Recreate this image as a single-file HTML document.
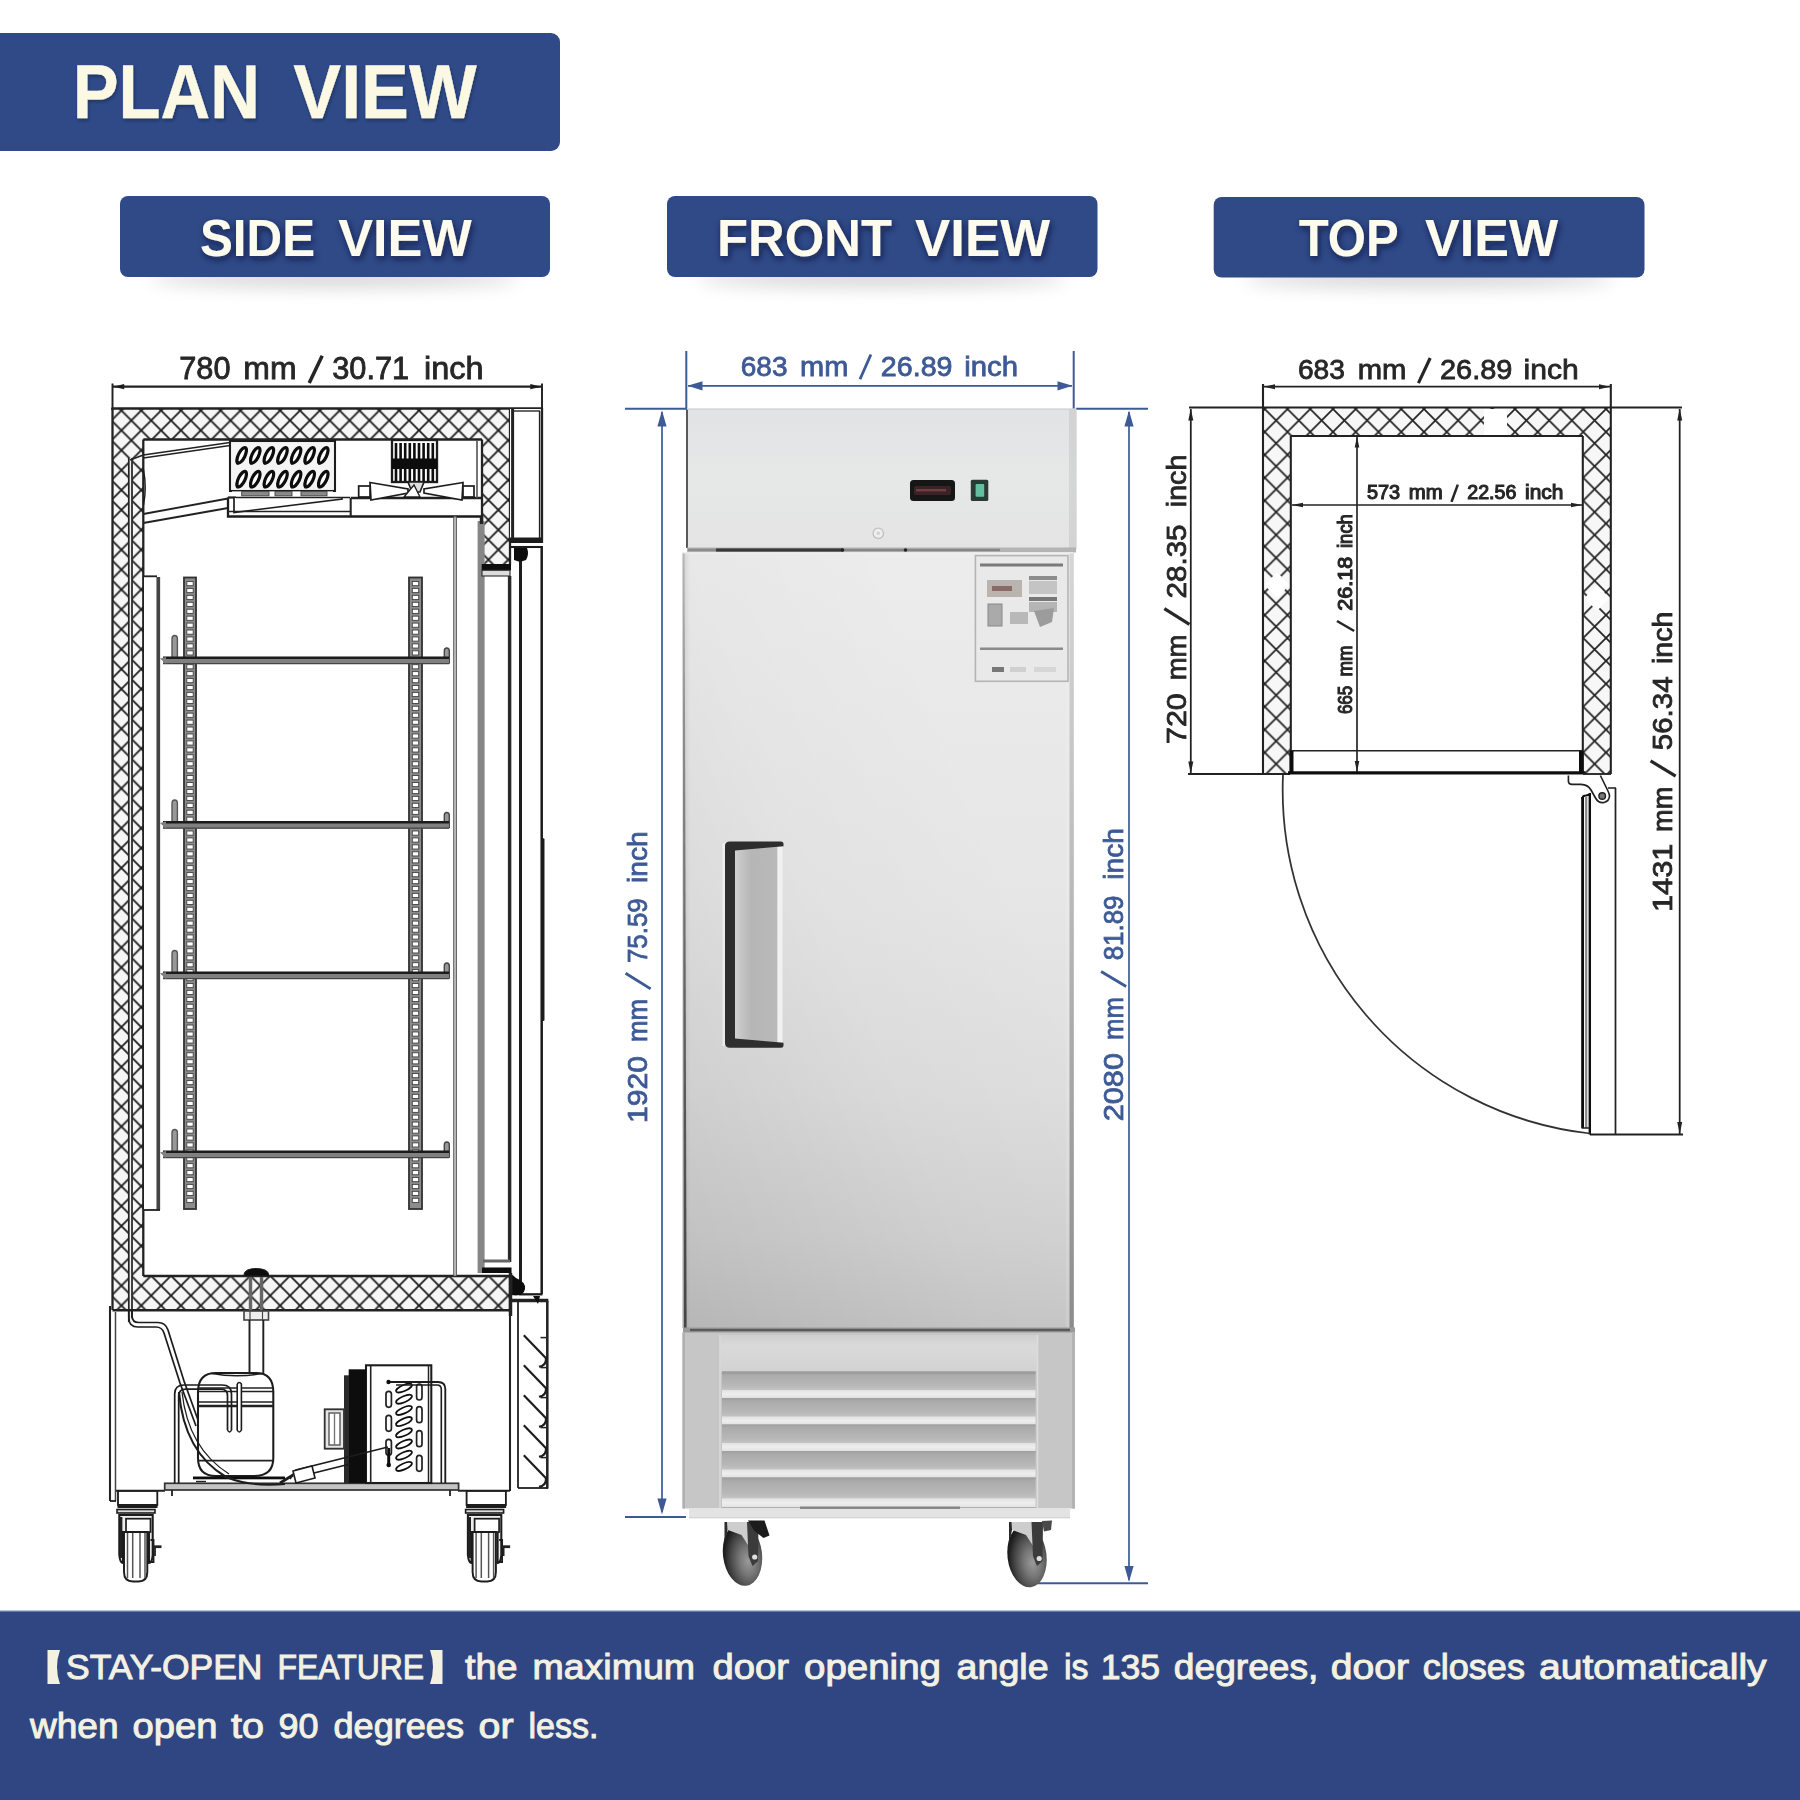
<!DOCTYPE html>
<html><head><meta charset="utf-8"><title>Plan View</title>
<style>
html,body{margin:0;padding:0;background:#fff;}
body{width:1800px;height:1800px;overflow:hidden;font-family:"Liberation Sans",sans-serif;}
svg{display:block;font-family:"Liberation Sans",sans-serif;}
</style></head><body>
<svg width="1800" height="1800" viewBox="0 0 1800 1800">
<defs>
<filter id="blur8" x="-20%" y="-200%" width="140%" height="500%"><feGaussianBlur stdDeviation="9"/></filter>
<filter id="soft" x="0" y="0" width="100%" height="100%" filterUnits="userSpaceOnUse"><feGaussianBlur stdDeviation="0.55"/></filter>
<filter id="blur1"><feGaussianBlur stdDeviation="0.6"/></filter>
<filter id="blur2"><feGaussianBlur stdDeviation="1.2"/></filter>
<filter id="blur4"><feGaussianBlur stdDeviation="4"/></filter>
<filter id="tsh" x="-5%" y="-20%" width="110%" height="150%"><feDropShadow dx="1" dy="2" stdDeviation="1.5" flood-color="#0a1a40" flood-opacity="0.55"/></filter>
<filter id="tsh2" x="-8%" y="-30%" width="116%" height="180%"><feDropShadow dx="1.5" dy="3" stdDeviation="3.5" flood-color="#071433" flood-opacity="0.7"/></filter>
<pattern id="hatchS" patternUnits="userSpaceOnUse" x="121.4" y="410.5" width="19.84" height="19.89">
<rect width="20" height="20" fill="#f6f6f6"/>
<path d="M-0.992 -0.9945 L20.832 20.8845 M20.832 -0.9945 L-0.992 20.8845" stroke="#1e1e1e" stroke-width="1.8" fill="none"/>
</pattern>

<linearGradient id="gDoor" x1="0" y1="0" x2="0" y2="1">
<stop offset="0" stop-color="#ececec"/><stop offset="0.45" stop-color="#e6e6e6"/><stop offset="0.7" stop-color="#dedede"/><stop offset="0.88" stop-color="#d3d3d3"/><stop offset="1" stop-color="#c8c8c8"/>
</linearGradient>
<linearGradient id="gDoorH" x1="0" y1="0" x2="1" y2="0">
<stop offset="0" stop-color="#000" stop-opacity="0.10"/><stop offset="0.02" stop-color="#000" stop-opacity="0.0"/><stop offset="0.5" stop-color="#fff" stop-opacity="0.0"/><stop offset="1" stop-color="#000" stop-opacity="0.0"/>
</linearGradient>
<linearGradient id="gEdgeL" x1="0" y1="0" x2="0" y2="1" gradientUnits="objectBoundingBox">
<stop offset="0" stop-color="#b8b8b8"/><stop offset="0.25" stop-color="#8a8a8a"/><stop offset="0.6" stop-color="#606060"/><stop offset="1" stop-color="#444"/>
</linearGradient>
<linearGradient id="gDoorDL" x1="0" y1="1" x2="0.8" y2="0.35">
<stop offset="0" stop-color="#000" stop-opacity="0.09"/><stop offset="0.6" stop-color="#000" stop-opacity="0.02"/><stop offset="1" stop-color="#000" stop-opacity="0"/>
</linearGradient>
<linearGradient id="gEdgeR" x1="0" y1="0" x2="0" y2="1">
<stop offset="0" stop-color="#d6d6d6"/><stop offset="0.3" stop-color="#c4c4c4"/><stop offset="0.6" stop-color="#adadad"/><stop offset="1" stop-color="#8c8c8c"/>
</linearGradient>
<linearGradient id="gTop" x1="0" y1="0" x2="0" y2="1">
<stop offset="0" stop-color="#e2e3e4"/><stop offset="0.5" stop-color="#e6e7e7"/><stop offset="1" stop-color="#e4e4e4"/>
</linearGradient>
<linearGradient id="gHandle" x1="0" y1="0" x2="1" y2="0">
<stop offset="0" stop-color="#d4d4d4"/><stop offset="0.15" stop-color="#c6c6c6"/><stop offset="0.4" stop-color="#b6b6b6"/><stop offset="1" stop-color="#b9b9b9"/>
</linearGradient>
<linearGradient id="gLouvre" x1="0" y1="0" x2="0" y2="1">
<stop offset="0" stop-color="#9e9e9e"/><stop offset="0.12" stop-color="#ababab"/><stop offset="0.5" stop-color="#b8b8b8"/><stop offset="0.63" stop-color="#c2c2c2"/><stop offset="0.67" stop-color="#e4e4e4"/><stop offset="0.8" stop-color="#eeeeee"/><stop offset="0.92" stop-color="#e2e2e2"/><stop offset="0.94" stop-color="#a8a8a8"/><stop offset="1" stop-color="#a0a0a0"/>
</linearGradient>
<linearGradient id="gBaseTop" x1="0" y1="0" x2="0" y2="1">
<stop offset="0" stop-color="#cfcfcf"/><stop offset="0.3" stop-color="#dadada"/><stop offset="1" stop-color="#d2d2d2"/>
</linearGradient>
<radialGradient id="gWheel" cx="0.62" cy="0.62" r="0.62">
<stop offset="0" stop-color="#9a9a9a"/><stop offset="0.35" stop-color="#777"/><stop offset="0.7" stop-color="#4a4a4a"/><stop offset="1" stop-color="#1c1c1c"/>
</radialGradient>

<pattern id="hatchT" patternUnits="userSpaceOnUse" x="1287.5" y="409" width="22.75" height="22.9">
<rect width="23" height="23" fill="#f7f7f7"/>
<path d="M-2.275 -2.29 L25.025 25.19 M25.025 -2.29 L-2.275 25.19" stroke="#222" stroke-width="1.7" fill="none"/>
</pattern>
</defs>
<rect x="0" y="0" width="1800" height="1800" fill="#fff"/>
<rect x="-12" y="33" width="572" height="118" fill="#2f4a87" stroke="none" stroke-width="1.6" rx="9" />
<g filter="url(#tsh)">
<text x="72.7" y="118.3" font-size="76" font-weight="bold" fill="#fbf8e4" text-anchor="start" textLength="187.3" lengthAdjust="spacingAndGlyphs" stroke="#fbf8e4" stroke-width="0.3" >PLAN</text>
<text x="293.3" y="118.3" font-size="76" font-weight="bold" fill="#fbf8e4" text-anchor="start" textLength="183.4" lengthAdjust="spacingAndGlyphs" stroke="#fbf8e4" stroke-width="0.3" >VIEW</text>
</g>
<ellipse cx="335" cy="278" rx="185" ry="9" fill="#000" opacity="0.17" filter="url(#blur8)"/>
<rect x="120" y="196" width="430" height="81" fill="#2f4a87" stroke="none" stroke-width="1.6" rx="8" />
<g filter="url(#tsh2)">
<text x="200" y="256" font-size="51.5" font-weight="bold" fill="#fdfbee" text-anchor="start" textLength="115" lengthAdjust="spacingAndGlyphs" >SIDE</text>
<text x="338.3" y="256" font-size="51.5" font-weight="bold" fill="#fdfbee" text-anchor="start" textLength="133.4" lengthAdjust="spacingAndGlyphs" >VIEW</text>
</g>
<ellipse cx="882.25" cy="278" rx="185.25" ry="9" fill="#000" opacity="0.17" filter="url(#blur8)"/>
<rect x="667" y="196" width="430.5" height="81" fill="#2f4a87" stroke="none" stroke-width="1.6" rx="8" />
<g filter="url(#tsh2)">
<text x="717" y="256" font-size="51.5" font-weight="bold" fill="#fdfbee" text-anchor="start" textLength="175" lengthAdjust="spacingAndGlyphs" >FRONT</text>
<text x="915" y="256" font-size="51.5" font-weight="bold" fill="#fdfbee" text-anchor="start" textLength="135" lengthAdjust="spacingAndGlyphs" >VIEW</text>
</g>
<ellipse cx="1429.1" cy="278.5" rx="185.4" ry="9" fill="#000" opacity="0.17" filter="url(#blur8)"/>
<rect x="1213.7" y="197" width="430.8" height="80.5" fill="#2f4a87" stroke="none" stroke-width="1.6" rx="8" />
<g filter="url(#tsh2)">
<text x="1298.7" y="256" font-size="51.5" font-weight="bold" fill="#fdfbee" text-anchor="start" textLength="100" lengthAdjust="spacingAndGlyphs" >TOP</text>
<text x="1425" y="256" font-size="51.5" font-weight="bold" fill="#fdfbee" text-anchor="start" textLength="133" lengthAdjust="spacingAndGlyphs" >VIEW</text>
</g>
<g id="side" filter="url(#soft)"><text x="179.2" y="379" font-size="30.5" font-weight="normal" fill="#262626" text-anchor="start" textLength="51.3" lengthAdjust="spacingAndGlyphs" stroke="#262626" stroke-width="0.8" >780</text>
<text x="243.3" y="379" font-size="30.5" font-weight="normal" fill="#262626" text-anchor="start" textLength="53.2" lengthAdjust="spacingAndGlyphs" stroke="#262626" stroke-width="0.8" >mm</text>
<line x1="309.2" y1="382.96" x2="322.2" y2="355.82" stroke="#262626" stroke-width="3.53" stroke-linecap="butt"/>
<text x="332.2" y="379" font-size="30.5" font-weight="normal" fill="#262626" text-anchor="start" textLength="77" lengthAdjust="spacingAndGlyphs" stroke="#262626" stroke-width="0.8" >30.71</text>
<text x="424" y="379" font-size="30.5" font-weight="normal" fill="#262626" text-anchor="start" textLength="59.5" lengthAdjust="spacingAndGlyphs" stroke="#262626" stroke-width="0.8" >inch</text>
<line x1="113" y1="386.7" x2="541.5" y2="386.7" stroke="#222" stroke-width="2.3" />
<polygon points="113.2,386.7 124.2,384.1 124.2,389.3" fill="#1e1e1e" stroke="none" stroke-width="0" />
<polygon points="541.3,386.7 530.3,384.1 530.3,389.3" fill="#1e1e1e" stroke="none" stroke-width="0" />
<line x1="112.5" y1="383.5" x2="112.5" y2="410" stroke="#222" stroke-width="1.95" />
<line x1="542" y1="383.5" x2="542" y2="410" stroke="#222" stroke-width="1.95" />
<rect x="113" y="409" width="397" height="30.5" fill="url(#hatchS)" stroke="none" stroke-width="1.84" rx="0" />
<rect x="113" y="409" width="30.3" height="901" fill="url(#hatchS)" stroke="none" stroke-width="1.84" rx="0" />
<rect x="482" y="439" width="28" height="126" fill="url(#hatchS)" stroke="none" stroke-width="1.84" rx="0" />
<rect x="113" y="1276" width="397" height="34.5" fill="url(#hatchS)" stroke="none" stroke-width="1.84" rx="0" />
<rect x="128.6" y="458" width="3.6" height="866" fill="#f2f2f2" stroke="none" stroke-width="1.84" rx="0" />
<line x1="128.8" y1="458" x2="128.8" y2="1322" stroke="#222" stroke-width="1.72" />
<line x1="132" y1="458" x2="132" y2="1318" stroke="#222" stroke-width="1.72" />
<line x1="143.3" y1="455" x2="130" y2="460" stroke="#222" stroke-width="1.61" />
<line x1="111.5" y1="408.6" x2="543" y2="408.6" stroke="#222" stroke-width="2.53" />
<line x1="112.5" y1="408" x2="112.5" y2="1310" stroke="#222" stroke-width="2.3" />
<line x1="143.3" y1="439.5" x2="482" y2="439.5" stroke="#222" stroke-width="2.53" />
<line x1="143.3" y1="439.5" x2="143.3" y2="1276" stroke="#222" stroke-width="2.3" />
<line x1="143.3" y1="1276" x2="510" y2="1276" stroke="#222" stroke-width="2.3" />
<line x1="482" y1="439.5" x2="482" y2="522" stroke="#222" stroke-width="2.3" />
<line x1="510" y1="409" x2="510" y2="565" stroke="#222" stroke-width="2.3" />
<line x1="112.5" y1="1310.3" x2="510" y2="1310.3" stroke="#222" stroke-width="2.53" />
<line x1="510" y1="1276" x2="510" y2="1310" stroke="#222" stroke-width="2.3" />
<rect x="510" y="409" width="32" height="132" fill="#fff" stroke="none" stroke-width="1.84" rx="0" />
<line x1="542" y1="408" x2="542" y2="543" stroke="#222" stroke-width="2.3" />
<line x1="512.6" y1="409" x2="512.6" y2="540" stroke="#222" stroke-width="2.99" />
<line x1="539.6" y1="411" x2="539.6" y2="538" stroke="#222" stroke-width="1.49" />
<line x1="513" y1="411" x2="540" y2="411" stroke="#222" stroke-width="1.38" />
<rect x="510" y="537.5" width="32.5" height="5.5" fill="#1e1e1e" stroke="none" stroke-width="1.84" rx="0" />
<line x1="143.3" y1="455" x2="230" y2="442.5" stroke="#222" stroke-width="1.72" />
<line x1="143.3" y1="458" x2="230" y2="445.5" stroke="#222" stroke-width="1.38" />
<line x1="143.3" y1="514" x2="228" y2="498.5" stroke="#222" stroke-width="1.84" />
<line x1="143.3" y1="523" x2="228" y2="508" stroke="#222" stroke-width="1.84" />
<path d="M143.5 470 Q147 488 143.5 505" fill="none" stroke="#1e1e1e" stroke-width="1.38" />
<rect x="230" y="441" width="105" height="50" fill="#f4f4f4" stroke="#1e1e1e" stroke-width="2.07" rx="0" />
<ellipse cx="240.5" cy="456.9" rx="3.6" ry="8.6" transform="rotate(26 240.5 456.9)" fill="#0c0c0c"/>
<ellipse cx="241.7" cy="455.3" rx="3.3" ry="8.4" transform="rotate(26 241.7 455.3)" fill="#fff" stroke="#0c0c0c" stroke-width="3.2"/>
<ellipse cx="254.1" cy="456.9" rx="3.6" ry="8.6" transform="rotate(26 254.1 456.9)" fill="#0c0c0c"/>
<ellipse cx="255.3" cy="455.3" rx="3.3" ry="8.4" transform="rotate(26 255.3 455.3)" fill="#fff" stroke="#0c0c0c" stroke-width="3.2"/>
<ellipse cx="267.7" cy="456.9" rx="3.6" ry="8.6" transform="rotate(26 267.7 456.9)" fill="#0c0c0c"/>
<ellipse cx="268.9" cy="455.3" rx="3.3" ry="8.4" transform="rotate(26 268.9 455.3)" fill="#fff" stroke="#0c0c0c" stroke-width="3.2"/>
<ellipse cx="281.3" cy="456.9" rx="3.6" ry="8.6" transform="rotate(26 281.3 456.9)" fill="#0c0c0c"/>
<ellipse cx="282.5" cy="455.3" rx="3.3" ry="8.4" transform="rotate(26 282.5 455.3)" fill="#fff" stroke="#0c0c0c" stroke-width="3.2"/>
<ellipse cx="294.9" cy="456.9" rx="3.6" ry="8.6" transform="rotate(26 294.9 456.9)" fill="#0c0c0c"/>
<ellipse cx="296.1" cy="455.3" rx="3.3" ry="8.4" transform="rotate(26 296.1 455.3)" fill="#fff" stroke="#0c0c0c" stroke-width="3.2"/>
<ellipse cx="308.5" cy="456.9" rx="3.6" ry="8.6" transform="rotate(26 308.5 456.9)" fill="#0c0c0c"/>
<ellipse cx="309.7" cy="455.3" rx="3.3" ry="8.4" transform="rotate(26 309.7 455.3)" fill="#fff" stroke="#0c0c0c" stroke-width="3.2"/>
<ellipse cx="322.1" cy="456.9" rx="3.6" ry="8.6" transform="rotate(26 322.1 456.9)" fill="#0c0c0c"/>
<ellipse cx="323.3" cy="455.3" rx="3.3" ry="8.4" transform="rotate(26 323.3 455.3)" fill="#fff" stroke="#0c0c0c" stroke-width="3.2"/>
<ellipse cx="240.5" cy="480.7" rx="3.6" ry="8.6" transform="rotate(26 240.5 480.7)" fill="#0c0c0c"/>
<ellipse cx="241.7" cy="479.1" rx="3.3" ry="8.4" transform="rotate(26 241.7 479.1)" fill="#fff" stroke="#0c0c0c" stroke-width="3.2"/>
<ellipse cx="254.1" cy="480.7" rx="3.6" ry="8.6" transform="rotate(26 254.1 480.7)" fill="#0c0c0c"/>
<ellipse cx="255.3" cy="479.1" rx="3.3" ry="8.4" transform="rotate(26 255.3 479.1)" fill="#fff" stroke="#0c0c0c" stroke-width="3.2"/>
<ellipse cx="267.7" cy="480.7" rx="3.6" ry="8.6" transform="rotate(26 267.7 480.7)" fill="#0c0c0c"/>
<ellipse cx="268.9" cy="479.1" rx="3.3" ry="8.4" transform="rotate(26 268.9 479.1)" fill="#fff" stroke="#0c0c0c" stroke-width="3.2"/>
<ellipse cx="281.3" cy="480.7" rx="3.6" ry="8.6" transform="rotate(26 281.3 480.7)" fill="#0c0c0c"/>
<ellipse cx="282.5" cy="479.1" rx="3.3" ry="8.4" transform="rotate(26 282.5 479.1)" fill="#fff" stroke="#0c0c0c" stroke-width="3.2"/>
<ellipse cx="294.9" cy="480.7" rx="3.6" ry="8.6" transform="rotate(26 294.9 480.7)" fill="#0c0c0c"/>
<ellipse cx="296.1" cy="479.1" rx="3.3" ry="8.4" transform="rotate(26 296.1 479.1)" fill="#fff" stroke="#0c0c0c" stroke-width="3.2"/>
<ellipse cx="308.5" cy="480.7" rx="3.6" ry="8.6" transform="rotate(26 308.5 480.7)" fill="#0c0c0c"/>
<ellipse cx="309.7" cy="479.1" rx="3.3" ry="8.4" transform="rotate(26 309.7 479.1)" fill="#fff" stroke="#0c0c0c" stroke-width="3.2"/>
<ellipse cx="322.1" cy="480.7" rx="3.6" ry="8.6" transform="rotate(26 322.1 480.7)" fill="#0c0c0c"/>
<ellipse cx="323.3" cy="479.1" rx="3.3" ry="8.4" transform="rotate(26 323.3 479.1)" fill="#fff" stroke="#0c0c0c" stroke-width="3.2"/>
<rect x="232" y="491.4" width="101" height="4.6" fill="#fff" stroke="none" stroke-width="1.84" rx="0" />
<rect x="241.7" y="491.6" width="27.3" height="4.2" fill="#8a8a8a" stroke="#444" stroke-width="0.92" rx="0" />
<rect x="275" y="491.6" width="17" height="4.2" fill="#8a8a8a" stroke="#444" stroke-width="0.92" rx="0" />
<rect x="301" y="491.6" width="26" height="4.2" fill="#8a8a8a" stroke="#444" stroke-width="0.92" rx="0" />
<path d="M228 497.5 L228 516.5 L482 516.5" fill="none" stroke="#1e1e1e" stroke-width="2.3" />
<line x1="228" y1="497.5" x2="236" y2="497.5" stroke="#222" stroke-width="2.3" />
<path d="M234 498 L234 512.5 L342 499 L342 497" fill="#fff" stroke="#1e1e1e" stroke-width="1.72" />
<line x1="228" y1="511.5" x2="350" y2="511.5" stroke="#222" stroke-width="1.38" />
<line x1="350.7" y1="498" x2="350.7" y2="516.5" stroke="#222" stroke-width="2.07" />
<line x1="350.7" y1="498" x2="482" y2="498" stroke="#222" stroke-width="2.3" />
<line x1="236" y1="497.5" x2="350" y2="497.5" stroke="#222" stroke-width="1.61" />
<rect x="392" y="440" width="45" height="42" fill="#fff" stroke="#1e1e1e" stroke-width="2.3" rx="0" />
<line x1="396" y1="443" x2="396" y2="481" stroke="#111" stroke-width="2.64" />
<line x1="400.6" y1="443" x2="400.6" y2="481" stroke="#111" stroke-width="2.64" />
<line x1="405.2" y1="443" x2="405.2" y2="481" stroke="#111" stroke-width="2.64" />
<line x1="409.8" y1="443" x2="409.8" y2="481" stroke="#111" stroke-width="2.64" />
<line x1="414.4" y1="443" x2="414.4" y2="481" stroke="#111" stroke-width="2.64" />
<line x1="419" y1="443" x2="419" y2="481" stroke="#111" stroke-width="2.64" />
<line x1="423.6" y1="443" x2="423.6" y2="481" stroke="#111" stroke-width="2.64" />
<line x1="428.2" y1="443" x2="428.2" y2="481" stroke="#111" stroke-width="2.64" />
<line x1="432.8" y1="443" x2="432.8" y2="481" stroke="#111" stroke-width="2.64" />
<rect x="392" y="458.5" width="45" height="10.5" fill="#0a0a0a" stroke="none" stroke-width="1.84" rx="0" />
<polygon points="370,482.5 408,489 408,493 371,500" fill="#fff" stroke="#1e1e1e" stroke-width="1.72" />
<polygon points="463,482.5 424,489 424,493 462,500" fill="#fff" stroke="#1e1e1e" stroke-width="1.72" />
<polygon points="408,482 424,482 420,492 412,492" fill="#ddd" stroke="#1e1e1e" stroke-width="1.61" />
<polygon points="404,497 414,485 420,497" fill="#fff" stroke="#1e1e1e" stroke-width="1.38" />
<rect x="358.7" y="486" width="11.3" height="11" fill="#fff" stroke="#1e1e1e" stroke-width="1.72" rx="0" />
<rect x="463" y="486" width="11" height="11" fill="#fff" stroke="#1e1e1e" stroke-width="1.72" rx="0" />
<line x1="477" y1="440" x2="477" y2="498" stroke="#555" stroke-width="1.61" />
<line x1="453.9" y1="516.5" x2="453.9" y2="1276" stroke="#555" stroke-width="1.38" />
<line x1="456.2" y1="516.5" x2="456.2" y2="1276" stroke="#555" stroke-width="1.38" />
<line x1="455" y1="516.5" x2="455" y2="1276" stroke="#bbb" stroke-width="1.38" />
<rect x="477.6" y="521" width="7" height="752" fill="#868686" stroke="none" stroke-width="1.84" rx="0" />
<line x1="481.5" y1="516" x2="481.5" y2="524" stroke="#222" stroke-width="3.45" />
<rect x="481.7" y="564" width="29.3" height="6.3" fill="#0a0a0a" stroke="none" stroke-width="1.84" rx="0" />
<rect x="482" y="570.3" width="28" height="5.7" fill="#dcdcdc" stroke="#333" stroke-width="1.15" rx="0" />
<rect x="510.5" y="577" width="30.5" height="685" fill="#fff" stroke="none" stroke-width="1.84" rx="0" />
<line x1="509.6" y1="576" x2="509.6" y2="1262" stroke="#2a2a2a" stroke-width="3.45" />
<line x1="520.5" y1="558" x2="520.5" y2="1294" stroke="#1e1e1e" stroke-width="2.99" />
<line x1="541.7" y1="546" x2="541.7" y2="1294" stroke="#1e1e1e" stroke-width="2.53" />
<line x1="511" y1="547" x2="542.5" y2="547" stroke="#1e1e1e" stroke-width="2.07" />
<line x1="519" y1="1294.3" x2="542.5" y2="1294.3" stroke="#1e1e1e" stroke-width="2.3" />
<path d="M514 548 L527 548 Q529.5 554 526 560 L520 562 L514 560 Z" fill="#111" stroke="none" stroke-width="0" />
<rect x="541.7" y="838.3" width="2.8" height="182.7" fill="#1e1e1e" stroke="none" stroke-width="1.84" rx="1.2" />
<line x1="483" y1="1261" x2="510" y2="1261" stroke="#666" stroke-width="2.99" />
<rect x="482" y="1267.5" width="29.5" height="5.5" fill="#0a0a0a" stroke="none" stroke-width="1.84" rx="0" />
<path d="M509 1272 L516 1278 Q526 1282 525 1289 Q524 1295 516 1295.5 L511 1295 Z" fill="#111" stroke="none" stroke-width="0" />
<rect x="144" y="576" width="15.5" height="634" fill="#fff" stroke="none" stroke-width="1.84" rx="0" />
<line x1="143.5" y1="576.3" x2="157" y2="576.3" stroke="#222" stroke-width="1.84" />
<line x1="158.3" y1="577" x2="158.3" y2="1210" stroke="#444" stroke-width="3.68" />
<line x1="143.5" y1="1210" x2="160" y2="1210" stroke="#222" stroke-width="1.84" />
<rect x="184" y="577.5" width="12" height="631.5" fill="#8c8c8c" stroke="#333" stroke-width="1.84" rx="0" />
<rect x="186.8" y="581.5" width="6.4" height="4.2" fill="#fff" stroke="#444" stroke-width="0.92" rx="0" />
<rect x="186.8" y="588.43" width="6.4" height="4.2" fill="#fff" stroke="#444" stroke-width="0.92" rx="0" />
<rect x="186.8" y="595.36" width="6.4" height="4.2" fill="#fff" stroke="#444" stroke-width="0.92" rx="0" />
<rect x="186.8" y="602.29" width="6.4" height="4.2" fill="#fff" stroke="#444" stroke-width="0.92" rx="0" />
<rect x="186.8" y="609.22" width="6.4" height="4.2" fill="#fff" stroke="#444" stroke-width="0.92" rx="0" />
<rect x="186.8" y="616.15" width="6.4" height="4.2" fill="#fff" stroke="#444" stroke-width="0.92" rx="0" />
<rect x="186.8" y="623.08" width="6.4" height="4.2" fill="#fff" stroke="#444" stroke-width="0.92" rx="0" />
<rect x="186.8" y="630.01" width="6.4" height="4.2" fill="#fff" stroke="#444" stroke-width="0.92" rx="0" />
<rect x="186.8" y="636.94" width="6.4" height="4.2" fill="#fff" stroke="#444" stroke-width="0.92" rx="0" />
<rect x="186.8" y="643.87" width="6.4" height="4.2" fill="#fff" stroke="#444" stroke-width="0.92" rx="0" />
<rect x="186.8" y="650.8" width="6.4" height="4.2" fill="#fff" stroke="#444" stroke-width="0.92" rx="0" />
<rect x="186.8" y="657.73" width="6.4" height="4.2" fill="#fff" stroke="#444" stroke-width="0.92" rx="0" />
<rect x="186.8" y="664.66" width="6.4" height="4.2" fill="#fff" stroke="#444" stroke-width="0.92" rx="0" />
<rect x="186.8" y="671.59" width="6.4" height="4.2" fill="#fff" stroke="#444" stroke-width="0.92" rx="0" />
<rect x="186.8" y="678.52" width="6.4" height="4.2" fill="#fff" stroke="#444" stroke-width="0.92" rx="0" />
<rect x="186.8" y="685.45" width="6.4" height="4.2" fill="#fff" stroke="#444" stroke-width="0.92" rx="0" />
<rect x="186.8" y="692.38" width="6.4" height="4.2" fill="#fff" stroke="#444" stroke-width="0.92" rx="0" />
<rect x="186.8" y="699.31" width="6.4" height="4.2" fill="#fff" stroke="#444" stroke-width="0.92" rx="0" />
<rect x="186.8" y="706.24" width="6.4" height="4.2" fill="#fff" stroke="#444" stroke-width="0.92" rx="0" />
<rect x="186.8" y="713.17" width="6.4" height="4.2" fill="#fff" stroke="#444" stroke-width="0.92" rx="0" />
<rect x="186.8" y="720.1" width="6.4" height="4.2" fill="#fff" stroke="#444" stroke-width="0.92" rx="0" />
<rect x="186.8" y="727.03" width="6.4" height="4.2" fill="#fff" stroke="#444" stroke-width="0.92" rx="0" />
<rect x="186.8" y="733.96" width="6.4" height="4.2" fill="#fff" stroke="#444" stroke-width="0.92" rx="0" />
<rect x="186.8" y="740.89" width="6.4" height="4.2" fill="#fff" stroke="#444" stroke-width="0.92" rx="0" />
<rect x="186.8" y="747.82" width="6.4" height="4.2" fill="#fff" stroke="#444" stroke-width="0.92" rx="0" />
<rect x="186.8" y="754.75" width="6.4" height="4.2" fill="#fff" stroke="#444" stroke-width="0.92" rx="0" />
<rect x="186.8" y="761.68" width="6.4" height="4.2" fill="#fff" stroke="#444" stroke-width="0.92" rx="0" />
<rect x="186.8" y="768.61" width="6.4" height="4.2" fill="#fff" stroke="#444" stroke-width="0.92" rx="0" />
<rect x="186.8" y="775.54" width="6.4" height="4.2" fill="#fff" stroke="#444" stroke-width="0.92" rx="0" />
<rect x="186.8" y="782.47" width="6.4" height="4.2" fill="#fff" stroke="#444" stroke-width="0.92" rx="0" />
<rect x="186.8" y="789.4" width="6.4" height="4.2" fill="#fff" stroke="#444" stroke-width="0.92" rx="0" />
<rect x="186.8" y="796.33" width="6.4" height="4.2" fill="#fff" stroke="#444" stroke-width="0.92" rx="0" />
<rect x="186.8" y="803.26" width="6.4" height="4.2" fill="#fff" stroke="#444" stroke-width="0.92" rx="0" />
<rect x="186.8" y="810.19" width="6.4" height="4.2" fill="#fff" stroke="#444" stroke-width="0.92" rx="0" />
<rect x="186.8" y="817.12" width="6.4" height="4.2" fill="#fff" stroke="#444" stroke-width="0.92" rx="0" />
<rect x="186.8" y="824.05" width="6.4" height="4.2" fill="#fff" stroke="#444" stroke-width="0.92" rx="0" />
<rect x="186.8" y="830.98" width="6.4" height="4.2" fill="#fff" stroke="#444" stroke-width="0.92" rx="0" />
<rect x="186.8" y="837.91" width="6.4" height="4.2" fill="#fff" stroke="#444" stroke-width="0.92" rx="0" />
<rect x="186.8" y="844.84" width="6.4" height="4.2" fill="#fff" stroke="#444" stroke-width="0.92" rx="0" />
<rect x="186.8" y="851.77" width="6.4" height="4.2" fill="#fff" stroke="#444" stroke-width="0.92" rx="0" />
<rect x="186.8" y="858.7" width="6.4" height="4.2" fill="#fff" stroke="#444" stroke-width="0.92" rx="0" />
<rect x="186.8" y="865.63" width="6.4" height="4.2" fill="#fff" stroke="#444" stroke-width="0.92" rx="0" />
<rect x="186.8" y="872.56" width="6.4" height="4.2" fill="#fff" stroke="#444" stroke-width="0.92" rx="0" />
<rect x="186.8" y="879.49" width="6.4" height="4.2" fill="#fff" stroke="#444" stroke-width="0.92" rx="0" />
<rect x="186.8" y="886.42" width="6.4" height="4.2" fill="#fff" stroke="#444" stroke-width="0.92" rx="0" />
<rect x="186.8" y="893.35" width="6.4" height="4.2" fill="#fff" stroke="#444" stroke-width="0.92" rx="0" />
<rect x="186.8" y="900.28" width="6.4" height="4.2" fill="#fff" stroke="#444" stroke-width="0.92" rx="0" />
<rect x="186.8" y="907.21" width="6.4" height="4.2" fill="#fff" stroke="#444" stroke-width="0.92" rx="0" />
<rect x="186.8" y="914.14" width="6.4" height="4.2" fill="#fff" stroke="#444" stroke-width="0.92" rx="0" />
<rect x="186.8" y="921.07" width="6.4" height="4.2" fill="#fff" stroke="#444" stroke-width="0.92" rx="0" />
<rect x="186.8" y="928" width="6.4" height="4.2" fill="#fff" stroke="#444" stroke-width="0.92" rx="0" />
<rect x="186.8" y="934.93" width="6.4" height="4.2" fill="#fff" stroke="#444" stroke-width="0.92" rx="0" />
<rect x="186.8" y="941.86" width="6.4" height="4.2" fill="#fff" stroke="#444" stroke-width="0.92" rx="0" />
<rect x="186.8" y="948.79" width="6.4" height="4.2" fill="#fff" stroke="#444" stroke-width="0.92" rx="0" />
<rect x="186.8" y="955.72" width="6.4" height="4.2" fill="#fff" stroke="#444" stroke-width="0.92" rx="0" />
<rect x="186.8" y="962.65" width="6.4" height="4.2" fill="#fff" stroke="#444" stroke-width="0.92" rx="0" />
<rect x="186.8" y="969.58" width="6.4" height="4.2" fill="#fff" stroke="#444" stroke-width="0.92" rx="0" />
<rect x="186.8" y="976.51" width="6.4" height="4.2" fill="#fff" stroke="#444" stroke-width="0.92" rx="0" />
<rect x="186.8" y="983.44" width="6.4" height="4.2" fill="#fff" stroke="#444" stroke-width="0.92" rx="0" />
<rect x="186.8" y="990.37" width="6.4" height="4.2" fill="#fff" stroke="#444" stroke-width="0.92" rx="0" />
<rect x="186.8" y="997.3" width="6.4" height="4.2" fill="#fff" stroke="#444" stroke-width="0.92" rx="0" />
<rect x="186.8" y="1004.23" width="6.4" height="4.2" fill="#fff" stroke="#444" stroke-width="0.92" rx="0" />
<rect x="186.8" y="1011.16" width="6.4" height="4.2" fill="#fff" stroke="#444" stroke-width="0.92" rx="0" />
<rect x="186.8" y="1018.09" width="6.4" height="4.2" fill="#fff" stroke="#444" stroke-width="0.92" rx="0" />
<rect x="186.8" y="1025.02" width="6.4" height="4.2" fill="#fff" stroke="#444" stroke-width="0.92" rx="0" />
<rect x="186.8" y="1031.95" width="6.4" height="4.2" fill="#fff" stroke="#444" stroke-width="0.92" rx="0" />
<rect x="186.8" y="1038.88" width="6.4" height="4.2" fill="#fff" stroke="#444" stroke-width="0.92" rx="0" />
<rect x="186.8" y="1045.81" width="6.4" height="4.2" fill="#fff" stroke="#444" stroke-width="0.92" rx="0" />
<rect x="186.8" y="1052.74" width="6.4" height="4.2" fill="#fff" stroke="#444" stroke-width="0.92" rx="0" />
<rect x="186.8" y="1059.67" width="6.4" height="4.2" fill="#fff" stroke="#444" stroke-width="0.92" rx="0" />
<rect x="186.8" y="1066.6" width="6.4" height="4.2" fill="#fff" stroke="#444" stroke-width="0.92" rx="0" />
<rect x="186.8" y="1073.53" width="6.4" height="4.2" fill="#fff" stroke="#444" stroke-width="0.92" rx="0" />
<rect x="186.8" y="1080.46" width="6.4" height="4.2" fill="#fff" stroke="#444" stroke-width="0.92" rx="0" />
<rect x="186.8" y="1087.39" width="6.4" height="4.2" fill="#fff" stroke="#444" stroke-width="0.92" rx="0" />
<rect x="186.8" y="1094.32" width="6.4" height="4.2" fill="#fff" stroke="#444" stroke-width="0.92" rx="0" />
<rect x="186.8" y="1101.25" width="6.4" height="4.2" fill="#fff" stroke="#444" stroke-width="0.92" rx="0" />
<rect x="186.8" y="1108.18" width="6.4" height="4.2" fill="#fff" stroke="#444" stroke-width="0.92" rx="0" />
<rect x="186.8" y="1115.11" width="6.4" height="4.2" fill="#fff" stroke="#444" stroke-width="0.92" rx="0" />
<rect x="186.8" y="1122.04" width="6.4" height="4.2" fill="#fff" stroke="#444" stroke-width="0.92" rx="0" />
<rect x="186.8" y="1128.97" width="6.4" height="4.2" fill="#fff" stroke="#444" stroke-width="0.92" rx="0" />
<rect x="186.8" y="1135.9" width="6.4" height="4.2" fill="#fff" stroke="#444" stroke-width="0.92" rx="0" />
<rect x="186.8" y="1142.83" width="6.4" height="4.2" fill="#fff" stroke="#444" stroke-width="0.92" rx="0" />
<rect x="186.8" y="1149.76" width="6.4" height="4.2" fill="#fff" stroke="#444" stroke-width="0.92" rx="0" />
<rect x="186.8" y="1156.69" width="6.4" height="4.2" fill="#fff" stroke="#444" stroke-width="0.92" rx="0" />
<rect x="186.8" y="1163.62" width="6.4" height="4.2" fill="#fff" stroke="#444" stroke-width="0.92" rx="0" />
<rect x="186.8" y="1170.55" width="6.4" height="4.2" fill="#fff" stroke="#444" stroke-width="0.92" rx="0" />
<rect x="186.8" y="1177.48" width="6.4" height="4.2" fill="#fff" stroke="#444" stroke-width="0.92" rx="0" />
<rect x="186.8" y="1184.41" width="6.4" height="4.2" fill="#fff" stroke="#444" stroke-width="0.92" rx="0" />
<rect x="186.8" y="1191.34" width="6.4" height="4.2" fill="#fff" stroke="#444" stroke-width="0.92" rx="0" />
<rect x="186.8" y="1198.27" width="6.4" height="4.2" fill="#fff" stroke="#444" stroke-width="0.92" rx="0" />
<rect x="409" y="577.5" width="13" height="631.5" fill="#8c8c8c" stroke="#333" stroke-width="1.84" rx="0" />
<rect x="412.3" y="581.5" width="6.4" height="4.2" fill="#fff" stroke="#444" stroke-width="0.92" rx="0" />
<rect x="412.3" y="588.43" width="6.4" height="4.2" fill="#fff" stroke="#444" stroke-width="0.92" rx="0" />
<rect x="412.3" y="595.36" width="6.4" height="4.2" fill="#fff" stroke="#444" stroke-width="0.92" rx="0" />
<rect x="412.3" y="602.29" width="6.4" height="4.2" fill="#fff" stroke="#444" stroke-width="0.92" rx="0" />
<rect x="412.3" y="609.22" width="6.4" height="4.2" fill="#fff" stroke="#444" stroke-width="0.92" rx="0" />
<rect x="412.3" y="616.15" width="6.4" height="4.2" fill="#fff" stroke="#444" stroke-width="0.92" rx="0" />
<rect x="412.3" y="623.08" width="6.4" height="4.2" fill="#fff" stroke="#444" stroke-width="0.92" rx="0" />
<rect x="412.3" y="630.01" width="6.4" height="4.2" fill="#fff" stroke="#444" stroke-width="0.92" rx="0" />
<rect x="412.3" y="636.94" width="6.4" height="4.2" fill="#fff" stroke="#444" stroke-width="0.92" rx="0" />
<rect x="412.3" y="643.87" width="6.4" height="4.2" fill="#fff" stroke="#444" stroke-width="0.92" rx="0" />
<rect x="412.3" y="650.8" width="6.4" height="4.2" fill="#fff" stroke="#444" stroke-width="0.92" rx="0" />
<rect x="412.3" y="657.73" width="6.4" height="4.2" fill="#fff" stroke="#444" stroke-width="0.92" rx="0" />
<rect x="412.3" y="664.66" width="6.4" height="4.2" fill="#fff" stroke="#444" stroke-width="0.92" rx="0" />
<rect x="412.3" y="671.59" width="6.4" height="4.2" fill="#fff" stroke="#444" stroke-width="0.92" rx="0" />
<rect x="412.3" y="678.52" width="6.4" height="4.2" fill="#fff" stroke="#444" stroke-width="0.92" rx="0" />
<rect x="412.3" y="685.45" width="6.4" height="4.2" fill="#fff" stroke="#444" stroke-width="0.92" rx="0" />
<rect x="412.3" y="692.38" width="6.4" height="4.2" fill="#fff" stroke="#444" stroke-width="0.92" rx="0" />
<rect x="412.3" y="699.31" width="6.4" height="4.2" fill="#fff" stroke="#444" stroke-width="0.92" rx="0" />
<rect x="412.3" y="706.24" width="6.4" height="4.2" fill="#fff" stroke="#444" stroke-width="0.92" rx="0" />
<rect x="412.3" y="713.17" width="6.4" height="4.2" fill="#fff" stroke="#444" stroke-width="0.92" rx="0" />
<rect x="412.3" y="720.1" width="6.4" height="4.2" fill="#fff" stroke="#444" stroke-width="0.92" rx="0" />
<rect x="412.3" y="727.03" width="6.4" height="4.2" fill="#fff" stroke="#444" stroke-width="0.92" rx="0" />
<rect x="412.3" y="733.96" width="6.4" height="4.2" fill="#fff" stroke="#444" stroke-width="0.92" rx="0" />
<rect x="412.3" y="740.89" width="6.4" height="4.2" fill="#fff" stroke="#444" stroke-width="0.92" rx="0" />
<rect x="412.3" y="747.82" width="6.4" height="4.2" fill="#fff" stroke="#444" stroke-width="0.92" rx="0" />
<rect x="412.3" y="754.75" width="6.4" height="4.2" fill="#fff" stroke="#444" stroke-width="0.92" rx="0" />
<rect x="412.3" y="761.68" width="6.4" height="4.2" fill="#fff" stroke="#444" stroke-width="0.92" rx="0" />
<rect x="412.3" y="768.61" width="6.4" height="4.2" fill="#fff" stroke="#444" stroke-width="0.92" rx="0" />
<rect x="412.3" y="775.54" width="6.4" height="4.2" fill="#fff" stroke="#444" stroke-width="0.92" rx="0" />
<rect x="412.3" y="782.47" width="6.4" height="4.2" fill="#fff" stroke="#444" stroke-width="0.92" rx="0" />
<rect x="412.3" y="789.4" width="6.4" height="4.2" fill="#fff" stroke="#444" stroke-width="0.92" rx="0" />
<rect x="412.3" y="796.33" width="6.4" height="4.2" fill="#fff" stroke="#444" stroke-width="0.92" rx="0" />
<rect x="412.3" y="803.26" width="6.4" height="4.2" fill="#fff" stroke="#444" stroke-width="0.92" rx="0" />
<rect x="412.3" y="810.19" width="6.4" height="4.2" fill="#fff" stroke="#444" stroke-width="0.92" rx="0" />
<rect x="412.3" y="817.12" width="6.4" height="4.2" fill="#fff" stroke="#444" stroke-width="0.92" rx="0" />
<rect x="412.3" y="824.05" width="6.4" height="4.2" fill="#fff" stroke="#444" stroke-width="0.92" rx="0" />
<rect x="412.3" y="830.98" width="6.4" height="4.2" fill="#fff" stroke="#444" stroke-width="0.92" rx="0" />
<rect x="412.3" y="837.91" width="6.4" height="4.2" fill="#fff" stroke="#444" stroke-width="0.92" rx="0" />
<rect x="412.3" y="844.84" width="6.4" height="4.2" fill="#fff" stroke="#444" stroke-width="0.92" rx="0" />
<rect x="412.3" y="851.77" width="6.4" height="4.2" fill="#fff" stroke="#444" stroke-width="0.92" rx="0" />
<rect x="412.3" y="858.7" width="6.4" height="4.2" fill="#fff" stroke="#444" stroke-width="0.92" rx="0" />
<rect x="412.3" y="865.63" width="6.4" height="4.2" fill="#fff" stroke="#444" stroke-width="0.92" rx="0" />
<rect x="412.3" y="872.56" width="6.4" height="4.2" fill="#fff" stroke="#444" stroke-width="0.92" rx="0" />
<rect x="412.3" y="879.49" width="6.4" height="4.2" fill="#fff" stroke="#444" stroke-width="0.92" rx="0" />
<rect x="412.3" y="886.42" width="6.4" height="4.2" fill="#fff" stroke="#444" stroke-width="0.92" rx="0" />
<rect x="412.3" y="893.35" width="6.4" height="4.2" fill="#fff" stroke="#444" stroke-width="0.92" rx="0" />
<rect x="412.3" y="900.28" width="6.4" height="4.2" fill="#fff" stroke="#444" stroke-width="0.92" rx="0" />
<rect x="412.3" y="907.21" width="6.4" height="4.2" fill="#fff" stroke="#444" stroke-width="0.92" rx="0" />
<rect x="412.3" y="914.14" width="6.4" height="4.2" fill="#fff" stroke="#444" stroke-width="0.92" rx="0" />
<rect x="412.3" y="921.07" width="6.4" height="4.2" fill="#fff" stroke="#444" stroke-width="0.92" rx="0" />
<rect x="412.3" y="928" width="6.4" height="4.2" fill="#fff" stroke="#444" stroke-width="0.92" rx="0" />
<rect x="412.3" y="934.93" width="6.4" height="4.2" fill="#fff" stroke="#444" stroke-width="0.92" rx="0" />
<rect x="412.3" y="941.86" width="6.4" height="4.2" fill="#fff" stroke="#444" stroke-width="0.92" rx="0" />
<rect x="412.3" y="948.79" width="6.4" height="4.2" fill="#fff" stroke="#444" stroke-width="0.92" rx="0" />
<rect x="412.3" y="955.72" width="6.4" height="4.2" fill="#fff" stroke="#444" stroke-width="0.92" rx="0" />
<rect x="412.3" y="962.65" width="6.4" height="4.2" fill="#fff" stroke="#444" stroke-width="0.92" rx="0" />
<rect x="412.3" y="969.58" width="6.4" height="4.2" fill="#fff" stroke="#444" stroke-width="0.92" rx="0" />
<rect x="412.3" y="976.51" width="6.4" height="4.2" fill="#fff" stroke="#444" stroke-width="0.92" rx="0" />
<rect x="412.3" y="983.44" width="6.4" height="4.2" fill="#fff" stroke="#444" stroke-width="0.92" rx="0" />
<rect x="412.3" y="990.37" width="6.4" height="4.2" fill="#fff" stroke="#444" stroke-width="0.92" rx="0" />
<rect x="412.3" y="997.3" width="6.4" height="4.2" fill="#fff" stroke="#444" stroke-width="0.92" rx="0" />
<rect x="412.3" y="1004.23" width="6.4" height="4.2" fill="#fff" stroke="#444" stroke-width="0.92" rx="0" />
<rect x="412.3" y="1011.16" width="6.4" height="4.2" fill="#fff" stroke="#444" stroke-width="0.92" rx="0" />
<rect x="412.3" y="1018.09" width="6.4" height="4.2" fill="#fff" stroke="#444" stroke-width="0.92" rx="0" />
<rect x="412.3" y="1025.02" width="6.4" height="4.2" fill="#fff" stroke="#444" stroke-width="0.92" rx="0" />
<rect x="412.3" y="1031.95" width="6.4" height="4.2" fill="#fff" stroke="#444" stroke-width="0.92" rx="0" />
<rect x="412.3" y="1038.88" width="6.4" height="4.2" fill="#fff" stroke="#444" stroke-width="0.92" rx="0" />
<rect x="412.3" y="1045.81" width="6.4" height="4.2" fill="#fff" stroke="#444" stroke-width="0.92" rx="0" />
<rect x="412.3" y="1052.74" width="6.4" height="4.2" fill="#fff" stroke="#444" stroke-width="0.92" rx="0" />
<rect x="412.3" y="1059.67" width="6.4" height="4.2" fill="#fff" stroke="#444" stroke-width="0.92" rx="0" />
<rect x="412.3" y="1066.6" width="6.4" height="4.2" fill="#fff" stroke="#444" stroke-width="0.92" rx="0" />
<rect x="412.3" y="1073.53" width="6.4" height="4.2" fill="#fff" stroke="#444" stroke-width="0.92" rx="0" />
<rect x="412.3" y="1080.46" width="6.4" height="4.2" fill="#fff" stroke="#444" stroke-width="0.92" rx="0" />
<rect x="412.3" y="1087.39" width="6.4" height="4.2" fill="#fff" stroke="#444" stroke-width="0.92" rx="0" />
<rect x="412.3" y="1094.32" width="6.4" height="4.2" fill="#fff" stroke="#444" stroke-width="0.92" rx="0" />
<rect x="412.3" y="1101.25" width="6.4" height="4.2" fill="#fff" stroke="#444" stroke-width="0.92" rx="0" />
<rect x="412.3" y="1108.18" width="6.4" height="4.2" fill="#fff" stroke="#444" stroke-width="0.92" rx="0" />
<rect x="412.3" y="1115.11" width="6.4" height="4.2" fill="#fff" stroke="#444" stroke-width="0.92" rx="0" />
<rect x="412.3" y="1122.04" width="6.4" height="4.2" fill="#fff" stroke="#444" stroke-width="0.92" rx="0" />
<rect x="412.3" y="1128.97" width="6.4" height="4.2" fill="#fff" stroke="#444" stroke-width="0.92" rx="0" />
<rect x="412.3" y="1135.9" width="6.4" height="4.2" fill="#fff" stroke="#444" stroke-width="0.92" rx="0" />
<rect x="412.3" y="1142.83" width="6.4" height="4.2" fill="#fff" stroke="#444" stroke-width="0.92" rx="0" />
<rect x="412.3" y="1149.76" width="6.4" height="4.2" fill="#fff" stroke="#444" stroke-width="0.92" rx="0" />
<rect x="412.3" y="1156.69" width="6.4" height="4.2" fill="#fff" stroke="#444" stroke-width="0.92" rx="0" />
<rect x="412.3" y="1163.62" width="6.4" height="4.2" fill="#fff" stroke="#444" stroke-width="0.92" rx="0" />
<rect x="412.3" y="1170.55" width="6.4" height="4.2" fill="#fff" stroke="#444" stroke-width="0.92" rx="0" />
<rect x="412.3" y="1177.48" width="6.4" height="4.2" fill="#fff" stroke="#444" stroke-width="0.92" rx="0" />
<rect x="412.3" y="1184.41" width="6.4" height="4.2" fill="#fff" stroke="#444" stroke-width="0.92" rx="0" />
<rect x="412.3" y="1191.34" width="6.4" height="4.2" fill="#fff" stroke="#444" stroke-width="0.92" rx="0" />
<rect x="412.3" y="1198.27" width="6.4" height="4.2" fill="#fff" stroke="#444" stroke-width="0.92" rx="0" />
<path d="M172 657 L172 639 Q172 635.5 174.7 635.5 Q177.4 635.5 177.4 639 L177.4 657" fill="#999" stroke="#555" stroke-width="1.38" />
<path d="M444.3 663 L444.3 651 Q444.3 648 446.8 648 Q449.3 648 449.3 651 L449.3 663 Z" fill="#999" stroke="#444" stroke-width="1.38" />
<rect x="163" y="657" width="286" height="7" fill="#808080" stroke="none" stroke-width="1.84" rx="0" />
<line x1="163" y1="657.8" x2="449" y2="657.8" stroke="#1a1a1a" stroke-width="2.53" />
<line x1="163" y1="663.6" x2="449" y2="663.6" stroke="#444" stroke-width="1.38" />
<polygon points="160,658.5 166,657 166,664" fill="#808080" stroke="none" stroke-width="0" />
<path d="M172 821.5 L172 803.5 Q172 800 174.7 800 Q177.4 800 177.4 803.5 L177.4 821.5" fill="#999" stroke="#555" stroke-width="1.38" />
<path d="M444.3 827.5 L444.3 815.5 Q444.3 812.5 446.8 812.5 Q449.3 812.5 449.3 815.5 L449.3 827.5 Z" fill="#999" stroke="#444" stroke-width="1.38" />
<rect x="163" y="821.5" width="286" height="7" fill="#808080" stroke="none" stroke-width="1.84" rx="0" />
<line x1="163" y1="822.3" x2="449" y2="822.3" stroke="#1a1a1a" stroke-width="2.53" />
<line x1="163" y1="828.1" x2="449" y2="828.1" stroke="#444" stroke-width="1.38" />
<polygon points="160,823 166,821.5 166,828.5" fill="#808080" stroke="none" stroke-width="0" />
<path d="M172 972 L172 954 Q172 950.5 174.7 950.5 Q177.4 950.5 177.4 954 L177.4 972" fill="#999" stroke="#555" stroke-width="1.38" />
<path d="M444.3 978 L444.3 966 Q444.3 963 446.8 963 Q449.3 963 449.3 966 L449.3 978 Z" fill="#999" stroke="#444" stroke-width="1.38" />
<rect x="163" y="972" width="286" height="7" fill="#808080" stroke="none" stroke-width="1.84" rx="0" />
<line x1="163" y1="972.8" x2="449" y2="972.8" stroke="#1a1a1a" stroke-width="2.53" />
<line x1="163" y1="978.6" x2="449" y2="978.6" stroke="#444" stroke-width="1.38" />
<polygon points="160,973.5 166,972 166,979" fill="#808080" stroke="none" stroke-width="0" />
<path d="M172 1151 L172 1133 Q172 1129.5 174.7 1129.5 Q177.4 1129.5 177.4 1133 L177.4 1151" fill="#999" stroke="#555" stroke-width="1.38" />
<path d="M444.3 1157 L444.3 1145 Q444.3 1142 446.8 1142 Q449.3 1142 449.3 1145 L449.3 1157 Z" fill="#999" stroke="#444" stroke-width="1.38" />
<rect x="163" y="1151" width="286" height="7" fill="#808080" stroke="none" stroke-width="1.84" rx="0" />
<line x1="163" y1="1151.8" x2="449" y2="1151.8" stroke="#1a1a1a" stroke-width="2.53" />
<line x1="163" y1="1157.6" x2="449" y2="1157.6" stroke="#444" stroke-width="1.38" />
<polygon points="160,1152.5 166,1151 166,1158" fill="#808080" stroke="none" stroke-width="0" />
<path d="M244 1276 Q244 1268.5 256 1268.5 Q268.7 1268.5 268.7 1276 Z" fill="#0a0a0a" stroke="#1e1e1e" stroke-width="1.15" />
<line x1="250.5" y1="1277" x2="250.5" y2="1310" stroke="#666" stroke-width="3.45" />
<line x1="261.5" y1="1277" x2="261.5" y2="1310" stroke="#666" stroke-width="3.45" />
<rect x="244" y="1311" width="24.5" height="9" fill="#eee" stroke="#444" stroke-width="1.61" rx="0" />
<line x1="250" y1="1311" x2="250" y2="1320" stroke="#444" stroke-width="1.15" />
<line x1="262.5" y1="1311" x2="262.5" y2="1320" stroke="#444" stroke-width="1.15" />
<line x1="249.5" y1="1320" x2="249.5" y2="1373" stroke="#222" stroke-width="1.95" />
<line x1="263.3" y1="1320" x2="263.3" y2="1374" stroke="#222" stroke-width="1.95" />
<line x1="110" y1="1306" x2="110" y2="1501" stroke="#222" stroke-width="2.07" />
<line x1="115.5" y1="1312" x2="115.5" y2="1501" stroke="#444" stroke-width="1.49" />
<line x1="110" y1="1501" x2="116" y2="1501" stroke="#222" stroke-width="1.84" />
<line x1="116" y1="1490.7" x2="165" y2="1490.7" stroke="#222" stroke-width="1.95" />
<line x1="458" y1="1490.7" x2="510" y2="1490.7" stroke="#222" stroke-width="1.95" />
<line x1="510.5" y1="1273" x2="510.5" y2="1316" stroke="#222" stroke-width="3.45" />
<line x1="510" y1="1310" x2="510" y2="1491" stroke="#222" stroke-width="2.07" />
<line x1="518" y1="1301" x2="518" y2="1488" stroke="#222" stroke-width="1.84" />
<line x1="547.3" y1="1300.7" x2="547.3" y2="1488.5" stroke="#222" stroke-width="2.53" />
<line x1="510" y1="1300.5" x2="548.3" y2="1300.5" stroke="#222" stroke-width="3.68" />
<line x1="518" y1="1488" x2="548" y2="1488" stroke="#222" stroke-width="1.84" />
<path d="M533 1296 L540 1296 L538 1304 Z" fill="#111" stroke="none" stroke-width="0" />
<path d="M523.8 1335.3 L546 1358.3 Q546.5 1365.3 539 1366.8" fill="none" stroke="#1e1e1e" stroke-width="2.18" />
<line x1="540.5" y1="1337.6" x2="546.5" y2="1337.6" stroke="#222" stroke-width="1.49" />
<path d="M523.8 1365.3 L546 1388.3 Q546.5 1395.3 539 1396.8" fill="none" stroke="#1e1e1e" stroke-width="2.18" />
<line x1="540.5" y1="1367.6" x2="546.5" y2="1367.6" stroke="#222" stroke-width="1.49" />
<path d="M523.8 1395.3 L546 1418.3 Q546.5 1425.3 539 1426.8" fill="none" stroke="#1e1e1e" stroke-width="2.18" />
<line x1="540.5" y1="1397.6" x2="546.5" y2="1397.6" stroke="#222" stroke-width="1.49" />
<path d="M523.8 1425.3 L546 1448.3 Q546.5 1455.3 539 1456.8" fill="none" stroke="#1e1e1e" stroke-width="2.18" />
<line x1="540.5" y1="1427.6" x2="546.5" y2="1427.6" stroke="#222" stroke-width="1.49" />
<path d="M523.8 1455.3 L546 1478.3 Q546.5 1485.3 539 1486.8" fill="none" stroke="#1e1e1e" stroke-width="2.18" />
<line x1="540.5" y1="1457.6" x2="546.5" y2="1457.6" stroke="#222" stroke-width="1.49" />
<rect x="164.7" y="1483.3" width="293.9" height="6.7" fill="#c4c4c4" stroke="#333" stroke-width="1.72" rx="0" />
<line x1="172" y1="1490" x2="172" y2="1496" stroke="#222" stroke-width="1.84" />
<line x1="450" y1="1490" x2="450" y2="1496" stroke="#222" stroke-width="1.84" />
<path d="M128.8 1310 L128.8 1318 Q128.8 1327 138 1327 L156 1327 Q162 1327 164 1333 L180 1383 L196 1426" fill="none" stroke="#1e1e1e" stroke-width="1.72" />
<path d="M132 1310 L132 1316 Q132 1322.5 139 1322.5 L158 1322.5 Q165.5 1322.5 168 1330 L184 1381 L198 1420" fill="none" stroke="#1e1e1e" stroke-width="1.72" />
<path d="M198 1392 Q198 1373 216 1373 L256 1373 Q273.3 1373 273.3 1392 L273.3 1458 Q273.3 1476 254 1476 L216 1476 Q198 1476 198 1458 Z" fill="#fff" stroke="#1e1e1e" stroke-width="2.07" />
<path d="M212 1373.5 Q236 1378 262 1373.5" fill="none" stroke="#1e1e1e" stroke-width="1.49" />
<line x1="198.5" y1="1388" x2="273" y2="1388" stroke="#222" stroke-width="1.72" />
<line x1="198.5" y1="1391.5" x2="273" y2="1391.5" stroke="#222" stroke-width="1.38" />
<line x1="198.5" y1="1402" x2="273" y2="1402" stroke="#222" stroke-width="1.72" />
<line x1="198.5" y1="1406" x2="273" y2="1406" stroke="#222" stroke-width="2.3" />
<line x1="199" y1="1460.7" x2="272.5" y2="1460.7" stroke="#222" stroke-width="1.72" />
<rect x="193" y="1476.5" width="92" height="2.8" fill="#111" stroke="none" stroke-width="1.84" rx="0" />
<line x1="196" y1="1481.5" x2="206" y2="1481.5" stroke="#222" stroke-width="1.38" />
<path d="M174.7 1483 L174.7 1394 Q174.7 1385 184 1385 L222 1385 Q231.5 1385 231.5 1394 L231.5 1430" fill="none" stroke="#1e1e1e" stroke-width="1.72" />
<path d="M178.7 1483 L178.7 1396 Q178.7 1389.2 186 1389.2 L221 1389.2 Q227.5 1389.2 227.5 1396 L227.5 1430" fill="none" stroke="#1e1e1e" stroke-width="1.72" />
<path d="M227.5 1430 Q229.5 1434 231.5 1430" fill="none" stroke="#1e1e1e" stroke-width="1.61" />
<path d="M237.2 1384 L237.2 1430 Q239.3 1434 241.4 1430 L241.4 1384 Q239.3 1381 237.2 1384" fill="#fff" stroke="#1e1e1e" stroke-width="1.61" />
<line x1="231.5" y1="1406" x2="237" y2="1406" stroke="#222" stroke-width="1.38" />
<path d="M179 1392 Q184 1452 226 1477 Q250 1487 285 1484" fill="none" stroke="#1e1e1e" stroke-width="2.07" />
<path d="M182 1392 Q188 1448 229 1474" fill="none" stroke="#1e1e1e" stroke-width="1.26" />
<rect x="366" y="1365.3" width="65.3" height="117.7" fill="#fff" stroke="#1e1e1e" stroke-width="2.07" rx="0" />
<line x1="370.7" y1="1366" x2="370.7" y2="1483" stroke="#222" stroke-width="1.61" />
<line x1="428.5" y1="1366" x2="428.5" y2="1483" stroke="#222" stroke-width="1.49" />
<rect x="348.7" y="1369.3" width="17.3" height="113.7" fill="#0c0c0c" stroke="none" stroke-width="1.84" rx="0" />
<rect x="344" y="1375.3" width="5" height="107.7" fill="#2a2a2a" stroke="none" stroke-width="1.84" rx="0" />
<rect x="324.7" y="1409.3" width="19.3" height="39.4" fill="#e6e6e6" stroke="#333" stroke-width="1.84" rx="0" />
<rect x="329" y="1413" width="11" height="32" fill="#fff" stroke="#555" stroke-width="1.38" rx="0" />
<line x1="334.5" y1="1413" x2="334.5" y2="1445" stroke="#777" stroke-width="1.38" />
<ellipse cx="404" cy="1388" rx="8.6" ry="3" transform="rotate(-24 404 1388)" fill="#fff" stroke="#111" stroke-width="1.7"/>
<ellipse cx="404" cy="1399.2" rx="8.6" ry="3" transform="rotate(-24 404 1399.2)" fill="#fff" stroke="#111" stroke-width="1.7"/>
<ellipse cx="404" cy="1410.4" rx="8.6" ry="3" transform="rotate(-24 404 1410.4)" fill="#fff" stroke="#111" stroke-width="1.7"/>
<ellipse cx="404" cy="1421.6" rx="8.6" ry="3" transform="rotate(-24 404 1421.6)" fill="#fff" stroke="#111" stroke-width="1.7"/>
<ellipse cx="404" cy="1432.8" rx="8.6" ry="3" transform="rotate(-24 404 1432.8)" fill="#fff" stroke="#111" stroke-width="1.7"/>
<ellipse cx="404" cy="1444" rx="8.6" ry="3" transform="rotate(-24 404 1444)" fill="#fff" stroke="#111" stroke-width="1.7"/>
<ellipse cx="404" cy="1455.2" rx="8.6" ry="3" transform="rotate(-24 404 1455.2)" fill="#fff" stroke="#111" stroke-width="1.7"/>
<ellipse cx="404" cy="1466.4" rx="8.6" ry="3" transform="rotate(-24 404 1466.4)" fill="#fff" stroke="#111" stroke-width="1.7"/>
<rect x="386" y="1391.3" width="5.4" height="16" fill="#fff" stroke="#222" stroke-width="1.72" rx="2.7" />
<rect x="386" y="1415.3" width="5.4" height="16" fill="#fff" stroke="#222" stroke-width="1.72" rx="2.7" />
<rect x="386" y="1439.3" width="5.4" height="16" fill="#fff" stroke="#222" stroke-width="1.72" rx="2.7" />
<rect x="416.6" y="1384" width="5.4" height="16" fill="#fff" stroke="#222" stroke-width="1.72" rx="2.7" />
<rect x="416.6" y="1406.7" width="5.4" height="16" fill="#fff" stroke="#222" stroke-width="1.72" rx="2.7" />
<rect x="416.6" y="1430.7" width="5.4" height="16" fill="#fff" stroke="#222" stroke-width="1.72" rx="2.7" />
<rect x="416.6" y="1455.3" width="5.4" height="16" fill="#fff" stroke="#222" stroke-width="1.72" rx="2.7" />
<path d="M388 1382 L438 1382 Q445.3 1382 445.3 1389 L445.3 1483" fill="none" stroke="#1e1e1e" stroke-width="1.84" />
<path d="M396 1385 L437 1385 Q441.3 1385 441.3 1389.5 L441.3 1483" fill="none" stroke="#1e1e1e" stroke-width="1.61" />
<circle cx="388.5" cy="1382" r="2.2" fill="#111"/>
<line x1="388.7" y1="1448" x2="388.7" y2="1465" stroke="#111" stroke-width="2.99" />
<circle cx="388.7" cy="1465" r="2.3" fill="#111"/>
<path d="M290 1479 L296 1470 L388 1447" fill="none" stroke="#1e1e1e" stroke-width="1.61" />
<path d="M296 1483 L302 1476 L350 1464" fill="none" stroke="#1e1e1e" stroke-width="1.61" />
<polygon points="293,1471 312,1466 315,1478 296,1483" fill="#fff" stroke="#1e1e1e" stroke-width="1.61" />
<path d="M280 1483 L293 1475" fill="none" stroke="#1e1e1e" stroke-width="2.76" />
<rect x="118" y="1491" width="39.3" height="14" fill="#fff" stroke="#1e1e1e" stroke-width="1.84" rx="0" />
<rect x="117.5" y="1504" width="40" height="4" fill="#1e1e1e" stroke="none" stroke-width="1.84" rx="0" />
<rect x="117" y="1509.5" width="38" height="3.5" fill="#ddd" stroke="#1e1e1e" stroke-width="1.61" rx="0" />
<path d="M119.3 1515 L152.7 1515 L152.7 1555 Q152 1563 149 1563 L149 1532 L123 1532 L123 1563 Q120 1563 119.3 1555 Z" fill="#eee" stroke="#1e1e1e" stroke-width="2.07" />
<rect x="126" y="1518.7" width="24.5" height="13.3" fill="#fff" stroke="#1e1e1e" stroke-width="1.72" rx="0" />
<line x1="121" y1="1517" x2="121" y2="1558" stroke="#222" stroke-width="2.76" />
<path d="M124 1532 L124 1572 Q124 1581.5 133 1581.5 L138.5 1581.5 Q147.3 1581.5 147.3 1572 L147.3 1532 Z" fill="#fff" stroke="#1e1e1e" stroke-width="1.95" />
<line x1="127.5" y1="1533" x2="127.5" y2="1578" stroke="#555" stroke-width="1.49" />
<line x1="132.7" y1="1533" x2="132.7" y2="1578" stroke="#555" stroke-width="1.49" />
<line x1="140" y1="1533" x2="140" y2="1578" stroke="#555" stroke-width="1.49" />
<line x1="145" y1="1533" x2="145" y2="1578" stroke="#555" stroke-width="1.49" />
<path d="M150.5 1540 L153.5 1540 L153.5 1562 L150.5 1562" fill="none" stroke="#1e1e1e" stroke-width="1.84" />
<line x1="153" y1="1546.7" x2="161.5" y2="1546.7" stroke="#222" stroke-width="2.76" />
<line x1="155" y1="1546" x2="155" y2="1556" stroke="#222" stroke-width="1.84" />
<rect x="466.6" y="1491" width="39.3" height="14" fill="#fff" stroke="#1e1e1e" stroke-width="1.84" rx="0" />
<rect x="466.1" y="1504" width="40" height="4" fill="#1e1e1e" stroke="none" stroke-width="1.84" rx="0" />
<rect x="465.6" y="1509.5" width="38" height="3.5" fill="#ddd" stroke="#1e1e1e" stroke-width="1.61" rx="0" />
<path d="M467.9 1515 L501.3 1515 L501.3 1555 Q500.6 1563 497.6 1563 L497.6 1532 L471.6 1532 L471.6 1563 Q468.6 1563 467.9 1555 Z" fill="#eee" stroke="#1e1e1e" stroke-width="2.07" />
<rect x="474.6" y="1518.7" width="24.5" height="13.3" fill="#fff" stroke="#1e1e1e" stroke-width="1.72" rx="0" />
<line x1="469.6" y1="1517" x2="469.6" y2="1558" stroke="#222" stroke-width="2.76" />
<path d="M472.6 1532 L472.6 1572 Q472.6 1581.5 481.6 1581.5 L487.1 1581.5 Q495.9 1581.5 495.9 1572 L495.9 1532 Z" fill="#fff" stroke="#1e1e1e" stroke-width="1.95" />
<line x1="476.1" y1="1533" x2="476.1" y2="1578" stroke="#555" stroke-width="1.49" />
<line x1="481.3" y1="1533" x2="481.3" y2="1578" stroke="#555" stroke-width="1.49" />
<line x1="488.6" y1="1533" x2="488.6" y2="1578" stroke="#555" stroke-width="1.49" />
<line x1="493.6" y1="1533" x2="493.6" y2="1578" stroke="#555" stroke-width="1.49" />
<path d="M499.1 1540 L502.1 1540 L502.1 1562 L499.1 1562" fill="none" stroke="#1e1e1e" stroke-width="1.84" />
<line x1="501.6" y1="1546.7" x2="510.1" y2="1546.7" stroke="#222" stroke-width="2.76" />
<line x1="503.6" y1="1546" x2="503.6" y2="1556" stroke="#222" stroke-width="1.84" /></g>
<g id="front" filter="url(#soft)"><text x="740.8" y="375.6" font-size="27.8" font-weight="normal" fill="#3d5a96" text-anchor="start" textLength="46.7" lengthAdjust="spacingAndGlyphs" stroke="#3d5a96" stroke-width="0.8" >683</text>
<text x="800" y="375.6" font-size="27.8" font-weight="normal" fill="#3d5a96" text-anchor="start" textLength="48.3" lengthAdjust="spacingAndGlyphs" stroke="#3d5a96" stroke-width="0.8" >mm</text>
<line x1="860" y1="379.21" x2="870.9" y2="354.47" stroke="#3d5a96" stroke-width="2.84" stroke-linecap="butt"/>
<text x="880.8" y="375.6" font-size="27.8" font-weight="normal" fill="#3d5a96" text-anchor="start" textLength="71.7" lengthAdjust="spacingAndGlyphs" stroke="#3d5a96" stroke-width="0.8" >26.89</text>
<text x="964.2" y="375.6" font-size="27.8" font-weight="normal" fill="#3d5a96" text-anchor="start" textLength="53.8" lengthAdjust="spacingAndGlyphs" stroke="#3d5a96" stroke-width="0.8" >inch</text>
<line x1="686.3" y1="351" x2="686.3" y2="409" stroke="#3d5a96" stroke-width="2" />
<line x1="1073.7" y1="351" x2="1073.7" y2="409" stroke="#3d5a96" stroke-width="2" />
<line x1="688" y1="385.8" x2="1072" y2="385.8" stroke="#3d5a96" stroke-width="1.7" />
<polygon points="687.5,385.8 702.5,381.2 702.5,390.4" fill="#3d5a96" stroke="none" stroke-width="0" />
<polygon points="1072.5,385.8 1057.5,381.2 1057.5,390.4" fill="#3d5a96" stroke="none" stroke-width="0" />
<line x1="625" y1="408.7" x2="687" y2="408.7" stroke="#3d5a96" stroke-width="2" />
<line x1="1076" y1="408.7" x2="1148" y2="408.7" stroke="#3d5a96" stroke-width="2" />
<line x1="662" y1="412" x2="662" y2="1512" stroke="#3d5a96" stroke-width="1.7" />
<polygon points="662,410.5 657.4,426.5 666.6,426.5" fill="#3d5a96" stroke="none" stroke-width="0" />
<polygon points="662,1514.5 657.4,1498.5 666.6,1498.5" fill="#3d5a96" stroke="none" stroke-width="0" />
<line x1="625" y1="1517" x2="686" y2="1517" stroke="#3d5a96" stroke-width="2" />
<line x1="1129" y1="412" x2="1129" y2="1580" stroke="#3d5a96" stroke-width="1.7" />
<polygon points="1129,410.5 1124.4,426.5 1133.6,426.5" fill="#3d5a96" stroke="none" stroke-width="0" />
<polygon points="1129,1582 1124.4,1566 1133.6,1566" fill="#3d5a96" stroke="none" stroke-width="0" />
<line x1="1037" y1="1583.3" x2="1148" y2="1583.3" stroke="#3d5a96" stroke-width="2" />
<text transform="translate(647 1123.1) rotate(-90)" font-size="28.2" font-weight="normal" fill="#3d5a96" textLength="67.1" lengthAdjust="spacingAndGlyphs" stroke="#3d5a96" stroke-width="0.8" >1920</text>
<text transform="translate(647 1042) rotate(-90)" font-size="28.2" font-weight="normal" fill="#3d5a96" textLength="43" lengthAdjust="spacingAndGlyphs" stroke="#3d5a96" stroke-width="0.8" >mm</text>
<line x1="650.67" y1="988.9" x2="625.57" y2="973.2" stroke="#3d5a96" stroke-width="2.88" />
<text transform="translate(647 963) rotate(-90)" font-size="28.2" font-weight="normal" fill="#3d5a96" textLength="64.6" lengthAdjust="spacingAndGlyphs" stroke="#3d5a96" stroke-width="0.8" >75.59</text>
<text transform="translate(647 882.9) rotate(-90)" font-size="28.2" font-weight="normal" fill="#3d5a96" textLength="51.7" lengthAdjust="spacingAndGlyphs" stroke="#3d5a96" stroke-width="0.8" >inch</text>
<text transform="translate(1122.5 1121.3) rotate(-90)" font-size="28.2" font-weight="normal" fill="#3d5a96" textLength="68.3" lengthAdjust="spacingAndGlyphs" stroke="#3d5a96" stroke-width="0.8" >2080</text>
<text transform="translate(1122.5 1039.9) rotate(-90)" font-size="28.2" font-weight="normal" fill="#3d5a96" textLength="42.9" lengthAdjust="spacingAndGlyphs" stroke="#3d5a96" stroke-width="0.8" >mm</text>
<line x1="1126.17" y1="986.6" x2="1101.07" y2="971.6" stroke="#3d5a96" stroke-width="2.88" />
<text transform="translate(1122.5 960.3) rotate(-90)" font-size="28.2" font-weight="normal" fill="#3d5a96" textLength="64.8" lengthAdjust="spacingAndGlyphs" stroke="#3d5a96" stroke-width="0.8" >81.89</text>
<text transform="translate(1122.5 879.8) rotate(-90)" font-size="28.2" font-weight="normal" fill="#3d5a96" textLength="51.7" lengthAdjust="spacingAndGlyphs" stroke="#3d5a96" stroke-width="0.8" >inch</text>
<rect x="686.5" y="408.7" width="390.2" height="140.3" fill="url(#gTop)" stroke="none" stroke-width="1.6" rx="0" />
<rect x="1069" y="409" width="7.7" height="140" fill="#000" stroke="none" stroke-width="1.6" rx="0" opacity="0.07"/>
<line x1="687" y1="409" x2="687" y2="548" stroke="#4a4a4a" stroke-width="1.8" />
<line x1="687" y1="409.2" x2="1076" y2="409.2" stroke="#d0d0d0" stroke-width="1.2" />
<rect x="687" y="547.5" width="389" height="5" fill="#b4b4b4" stroke="none" stroke-width="1.6" rx="0" />
<rect x="688" y="548.6" width="28" height="2.6" fill="#8c8c8c" stroke="none" stroke-width="1.6" rx="0" filter="url(#blur1)"/>
<rect x="716" y="548.4" width="127" height="3.2" fill="#383838" stroke="none" stroke-width="1.6" rx="0" filter="url(#blur1)"/>
<rect x="843" y="548.8" width="157" height="2.4" fill="#868686" stroke="none" stroke-width="1.6" rx="0" filter="url(#blur1)"/>
<circle cx="842.5" cy="550" r="1.8" fill="#222"/><circle cx="905.5" cy="550" r="1.8" fill="#222"/>
<rect x="910" y="480" width="45" height="21" fill="#141414" stroke="none" stroke-width="1.6" rx="3.5" />
<rect x="914" y="486" width="37" height="9" fill="#3a2426" stroke="none" stroke-width="1.6" rx="2" />
<rect x="916" y="489" width="30" height="2.4" fill="#8a4a4a" stroke="none" stroke-width="1.6" rx="0" opacity="0.7"/>
<rect x="970.8" y="479.7" width="17.5" height="21.2" fill="#2b3a36" stroke="none" stroke-width="1.6" rx="1.5" />
<rect x="975.6" y="484" width="8.6" height="12.8" fill="#63bfa0" stroke="none" stroke-width="1.6" rx="1" />
<circle cx="878.3" cy="533.3" r="5.2" fill="#eee" stroke="#c2c2c2" stroke-width="1.4"/>
<circle cx="878.3" cy="533.3" r="1.8" fill="#d2d2d2"/>
<rect x="682.5" y="552.5" width="391" height="775.5" fill="url(#gDoor)" stroke="none" stroke-width="1.6" rx="0" />
<rect x="682.5" y="552.5" width="391" height="775.5" fill="url(#gDoorH)" stroke="none" stroke-width="1.6" rx="0" />
<rect x="682.5" y="552.5" width="391" height="775.5" fill="url(#gDoorDL)" stroke="none" stroke-width="1.6" rx="0" />
<polygon points="682.6,553 684.6,553 686.6,1328 684,1328" fill="url(#gEdgeL)" stroke="none" stroke-width="0" />
<rect x="1066" y="553" width="3.5" height="775" fill="#fff" stroke="none" stroke-width="1.6" rx="0" opacity="0.12"/>
<rect x="1069.5" y="553" width="4.3" height="775" fill="url(#gEdgeR)" stroke="none" stroke-width="1.6" rx="0" filter="url(#blur1)"/>
<line x1="683" y1="553" x2="1073" y2="553" stroke="#f2f2f2" stroke-width="1.2" />
<rect x="975.4" y="555.6" width="92.6" height="125.7" fill="#e9e9e9" stroke="#b4b4b4" stroke-width="1.6" rx="0" />
<rect x="980" y="563.5" width="83" height="3" fill="#7a7a7a" stroke="none" stroke-width="1.6" rx="0" />
<rect x="987" y="580" width="35" height="17" fill="#b9b4b0" stroke="none" stroke-width="1.6" rx="0" />
<rect x="992" y="586" width="20" height="5" fill="#8a6a66" stroke="none" stroke-width="1.6" rx="0" />
<rect x="1029" y="576" width="28" height="4" fill="#8c8c8c" stroke="none" stroke-width="1.6" rx="0" />
<rect x="1029" y="581" width="28" height="13" fill="#c4c4c4" stroke="none" stroke-width="1.6" rx="0" />
<rect x="1029" y="597" width="28" height="4" fill="#777" stroke="none" stroke-width="1.6" rx="0" />
<rect x="1029" y="602" width="28" height="10" fill="#b5b5b5" stroke="none" stroke-width="1.6" rx="0" />
<rect x="988" y="604" width="14" height="22" fill="#aaa" stroke="#888" stroke-width="1" rx="0" />
<rect x="1010" y="612" width="18" height="12" fill="#b8b8b8" stroke="none" stroke-width="1.6" rx="0" />
<polygon points="1034,611 1054,608 1052,622 1040,627" fill="#9c9c9c" stroke="none" stroke-width="0" />
<rect x="980" y="647.5" width="83" height="2.5" fill="#8a8a8a" stroke="none" stroke-width="1.6" rx="0" />
<rect x="992" y="667" width="12" height="5" fill="#777" stroke="none" stroke-width="1.6" rx="0" />
<rect x="1010" y="667" width="16" height="5" fill="#d0d0d0" stroke="none" stroke-width="1.6" rx="0" />
<rect x="1034" y="667" width="22" height="5" fill="#d6d6d6" stroke="none" stroke-width="1.6" rx="0" />
<polygon points="734,849 777.5,846.6 777.5,1042.5 734,1040" fill="url(#gHandle)" stroke="none" stroke-width="0" />
<polygon points="777.5,846.8 782.5,846.4 782.5,1042.8 777.5,1042.4" fill="#f1f1f1" stroke="none" stroke-width="0" />
<path d="M725 846 Q725 841.5 730 841.5 L781 841.5 Q783.5 841.5 783.5 844 L783.5 846.3 L735 850.6 L735 1038.4 L783.5 1042.8 L783.5 1045.3 Q783.5 1047.8 781 1047.8 L730 1047.8 Q725 1047.8 725 1043 Z" fill="#2e2e2e" stroke="none" stroke-width="0" />
<rect x="722.5" y="843" width="2.5" height="203" fill="#fff" stroke="none" stroke-width="1.6" rx="0" opacity="0.5"/>
<rect x="683" y="1327.5" width="392" height="5.5" fill="#9a9a9a" stroke="none" stroke-width="1.6" rx="0" />
<rect x="690" y="1328.8" width="380" height="2.4" fill="#5a5a5a" stroke="none" stroke-width="1.6" rx="0" filter="url(#blur1)"/>
<rect x="682.5" y="1332.5" width="392.5" height="176" fill="#c6c6c6" stroke="none" stroke-width="1.6" rx="0" />
<rect x="682.5" y="1332.5" width="2.5" height="176" fill="#b0b0b0" stroke="none" stroke-width="1.6" rx="0" />
<rect x="1072" y="1332.5" width="3" height="176" fill="#b4b4b4" stroke="none" stroke-width="1.6" rx="0" />
<rect x="720" y="1335" width="317.5" height="36.5" fill="url(#gBaseTop)" stroke="none" stroke-width="1.6" rx="0" />
<line x1="720" y1="1335" x2="720" y2="1508" stroke="#d9d9d9" stroke-width="1.6" />
<line x1="1037.5" y1="1335" x2="1037.5" y2="1508" stroke="#dcdcdc" stroke-width="1.6" />
<rect x="722" y="1371.5" width="313.5" height="28.5" fill="url(#gLouvre)" stroke="none" stroke-width="1.6" rx="0" />
<rect x="722" y="1398" width="313.5" height="28.5" fill="url(#gLouvre)" stroke="none" stroke-width="1.6" rx="0" />
<rect x="722" y="1424.5" width="313.5" height="28.5" fill="url(#gLouvre)" stroke="none" stroke-width="1.6" rx="0" />
<rect x="722" y="1451" width="313.5" height="28.5" fill="url(#gLouvre)" stroke="none" stroke-width="1.6" rx="0" />
<rect x="722" y="1477.5" width="313.5" height="32" fill="url(#gLouvre)" stroke="none" stroke-width="1.6" rx="0" />
<rect x="722" y="1371.5" width="313.5" height="2.5" fill="#9d9d9d" stroke="none" stroke-width="1.6" rx="0" />
<rect x="689" y="1508" width="381" height="9.5" fill="#e3e3e3" stroke="none" stroke-width="1.6" rx="0" />
<rect x="800" y="1506.5" width="160" height="2.5" fill="#777" stroke="none" stroke-width="1.6" rx="0" filter="url(#blur1)" opacity="0.8"/>
<line x1="689" y1="1517.8" x2="1070" y2="1517.8" stroke="#c9c9c9" stroke-width="1" />
<g filter="url(#blur1)"><ellipse cx="742.5" cy="1554.5" rx="19.5" ry="31.5" transform="rotate(-7 742.5 1554.5)" fill="url(#gWheel)"/><polygon points="724.5,1522 749.5,1522 750.5,1549 741.5,1535 726.5,1529.5" fill="#cdcdcd" stroke="none" stroke-width="0" /><polygon points="724.5,1522 727,1522 727.5,1530 724.5,1545" fill="#2a2a2a" stroke="none" stroke-width="0" /><polygon points="747,1522 758.5,1522 758,1561 752.5,1566 748.5,1556" fill="#3a3a3a" stroke="none" stroke-width="0" /><circle cx="754.7" cy="1557" r="2.6" fill="#e0e0e0"/><polygon points="748,1520.5 764.5,1520.5 769.5,1535.5 763.5,1538 754.5,1531" fill="#1d1d1d" stroke="none" stroke-width="0" /><ellipse cx="1027" cy="1556" rx="19.5" ry="31.5" transform="rotate(-7 1027 1556)" fill="url(#gWheel)"/><polygon points="1009,1522 1034,1522 1035,1549 1026,1535 1011,1529.5" fill="#cdcdcd" stroke="none" stroke-width="0" /><polygon points="1009,1522 1011.5,1522 1012,1530 1009,1545" fill="#2a2a2a" stroke="none" stroke-width="0" /><polygon points="1031.5,1522 1043,1522 1042.5,1561 1037,1566 1033,1556" fill="#3a3a3a" stroke="none" stroke-width="0" /><circle cx="1039.2" cy="1558.5" r="2.6" fill="#e0e0e0"/><polygon points="1042,1521 1052,1520.5 1051,1530 1044,1531.5" fill="#4a4a4a" stroke="none" stroke-width="0" /></g></g>
<g id="top" filter="url(#soft)"><text x="1297.9" y="379.4" font-size="28.2" font-weight="normal" fill="#262626" text-anchor="start" textLength="47" lengthAdjust="spacingAndGlyphs" stroke="#262626" stroke-width="0.8" >683</text>
<text x="1357.7" y="379.4" font-size="28.2" font-weight="normal" fill="#262626" text-anchor="start" textLength="48.7" lengthAdjust="spacingAndGlyphs" stroke="#262626" stroke-width="0.8" >mm</text>
<line x1="1418.4" y1="383.07" x2="1430.2" y2="357.97" stroke="#262626" stroke-width="3.16" stroke-linecap="butt"/>
<text x="1440" y="379.4" font-size="28.2" font-weight="normal" fill="#262626" text-anchor="start" textLength="72.4" lengthAdjust="spacingAndGlyphs" stroke="#262626" stroke-width="0.8" >26.89</text>
<text x="1523.5" y="379.4" font-size="28.2" font-weight="normal" fill="#262626" text-anchor="start" textLength="55.2" lengthAdjust="spacingAndGlyphs" stroke="#262626" stroke-width="0.8" >inch</text>
<text transform="translate(1185.8 744) rotate(-90)" font-size="28.2" font-weight="normal" fill="#262626" textLength="50.8" lengthAdjust="spacingAndGlyphs" stroke="#262626" stroke-width="0.8" >720</text>
<text transform="translate(1185.8 680.3) rotate(-90)" font-size="28.2" font-weight="normal" fill="#262626" textLength="45.7" lengthAdjust="spacingAndGlyphs" stroke="#262626" stroke-width="0.8" >mm</text>
<line x1="1189.47" y1="624.4" x2="1164.37" y2="608.7" stroke="#262626" stroke-width="3.16" />
<text transform="translate(1185.8 598.5) rotate(-90)" font-size="28.2" font-weight="normal" fill="#262626" textLength="74.1" lengthAdjust="spacingAndGlyphs" stroke="#262626" stroke-width="0.8" >28.35</text>
<text transform="translate(1185.8 507.2) rotate(-90)" font-size="28.2" font-weight="normal" fill="#262626" textLength="52.6" lengthAdjust="spacingAndGlyphs" stroke="#262626" stroke-width="0.8" >inch</text>
<text transform="translate(1672 912) rotate(-90)" font-size="28.2" font-weight="normal" fill="#262626" textLength="68.4" lengthAdjust="spacingAndGlyphs" stroke="#262626" stroke-width="0.8" >1431</text>
<text transform="translate(1672 832) rotate(-90)" font-size="28.2" font-weight="normal" fill="#262626" textLength="45.3" lengthAdjust="spacingAndGlyphs" stroke="#262626" stroke-width="0.8" >mm</text>
<line x1="1675.67" y1="776.1" x2="1650.57" y2="760.8" stroke="#262626" stroke-width="3.16" />
<text transform="translate(1672 750.2) rotate(-90)" font-size="28.2" font-weight="normal" fill="#262626" textLength="73.8" lengthAdjust="spacingAndGlyphs" stroke="#262626" stroke-width="0.8" >56.34</text>
<text transform="translate(1672 664) rotate(-90)" font-size="28.2" font-weight="normal" fill="#262626" textLength="52.4" lengthAdjust="spacingAndGlyphs" stroke="#262626" stroke-width="0.8" >inch</text>
<text x="1366.9" y="499.4" font-size="19.4" font-weight="normal" fill="#262626" text-anchor="start" textLength="33.2" lengthAdjust="spacingAndGlyphs" stroke="#262626" stroke-width="1.1" >573</text>
<text x="1408.8" y="499.4" font-size="19.4" font-weight="normal" fill="#262626" text-anchor="start" textLength="33.9" lengthAdjust="spacingAndGlyphs" stroke="#262626" stroke-width="1.1" >mm</text>
<line x1="1451.5" y1="501.92" x2="1457.8" y2="484.66" stroke="#262626" stroke-width="2.54" stroke-linecap="butt"/>
<text x="1467.3" y="499.4" font-size="19.4" font-weight="normal" fill="#262626" text-anchor="start" textLength="49.1" lengthAdjust="spacingAndGlyphs" stroke="#262626" stroke-width="1.1" >22.56</text>
<text x="1525" y="499.4" font-size="19.4" font-weight="normal" fill="#262626" text-anchor="start" textLength="38.3" lengthAdjust="spacingAndGlyphs" stroke="#262626" stroke-width="1.1" >inch</text>
<text transform="translate(1351.7 714.1) rotate(-90)" font-size="19.4" font-weight="normal" fill="#262626" textLength="28.2" lengthAdjust="spacingAndGlyphs" stroke="#262626" stroke-width="1.1" >665</text>
<text transform="translate(1351.7 676.6) rotate(-90)" font-size="19.4" font-weight="normal" fill="#262626" textLength="31.1" lengthAdjust="spacingAndGlyphs" stroke="#262626" stroke-width="1.1" >mm</text>
<line x1="1354.22" y1="631" x2="1336.96" y2="621" stroke="#262626" stroke-width="2.54" />
<text transform="translate(1351.7 610.8) rotate(-90)" font-size="19.4" font-weight="normal" fill="#262626" textLength="54.1" lengthAdjust="spacingAndGlyphs" stroke="#262626" stroke-width="1.1" >26.18</text>
<text transform="translate(1351.7 548) rotate(-90)" font-size="19.4" font-weight="normal" fill="#262626" textLength="33.9" lengthAdjust="spacingAndGlyphs" stroke="#262626" stroke-width="1.1" >inch</text>
<rect x="1263" y="407.5" width="348" height="28.5" fill="url(#hatchT)" stroke="none" stroke-width="1.76" rx="0" />
<rect x="1263" y="407.5" width="28" height="366.5" fill="url(#hatchT)" stroke="none" stroke-width="1.76" rx="0" />
<rect x="1583" y="407.5" width="28" height="366.5" fill="url(#hatchT)" stroke="none" stroke-width="1.76" rx="0" />
<rect x="1484" y="409" width="23" height="26" fill="#fff" stroke="none" stroke-width="1.76" rx="0" />
<polygon points="1264.5,585 1277,572 1289.5,585 1277,598" fill="#fff" stroke="none" stroke-width="0" />
<polygon points="1584.5,598 1597,585 1609.5,598 1597,611" fill="#fff" stroke="none" stroke-width="0" />
<line x1="1189" y1="407.5" x2="1682" y2="407.5" stroke="#222" stroke-width="2.09" />
<line x1="1263" y1="384" x2="1263" y2="774" stroke="#222" stroke-width="2.09" />
<line x1="1610.8" y1="384" x2="1610.8" y2="774" stroke="#222" stroke-width="2.09" />
<line x1="1290.8" y1="436" x2="1583" y2="436" stroke="#222" stroke-width="2.09" />
<line x1="1290.8" y1="436" x2="1290.8" y2="773" stroke="#222" stroke-width="2.09" />
<line x1="1582.8" y1="436" x2="1582.8" y2="773" stroke="#222" stroke-width="2.09" />
<line x1="1264" y1="386.7" x2="1610" y2="386.7" stroke="#222" stroke-width="1.76" />
<polygon points="1264,386.7 1275,384.2 1275,389.2" fill="#222" stroke="none" stroke-width="0" />
<polygon points="1610,386.7 1599,384.2 1599,389.2" fill="#222" stroke="none" stroke-width="0" />
<line x1="1190.8" y1="409" x2="1190.8" y2="773" stroke="#222" stroke-width="1.76" />
<polygon points="1190.8,408.5 1188.3,420.5 1193.3,420.5" fill="#222" stroke="none" stroke-width="0" />
<polygon points="1190.8,773.5 1188.3,761.5 1193.3,761.5" fill="#222" stroke="none" stroke-width="0" />
<line x1="1188" y1="774" x2="1290" y2="774" stroke="#222" stroke-width="1.87" />
<line x1="1679.7" y1="409" x2="1679.7" y2="1134" stroke="#222" stroke-width="1.76" />
<polygon points="1679.7,408.5 1677.2,420.5 1682.2,420.5" fill="#222" stroke="none" stroke-width="0" />
<polygon points="1679.7,1134 1677.2,1122 1682.2,1122" fill="#222" stroke="none" stroke-width="0" />
<line x1="1590" y1="1134.5" x2="1683" y2="1134.5" stroke="#222" stroke-width="1.87" />
<line x1="1357" y1="437" x2="1357" y2="772" stroke="#222" stroke-width="1.65" />
<polygon points="1357,436.5 1354.7,447.5 1359.3,447.5" fill="#222" stroke="none" stroke-width="0" />
<polygon points="1357,772 1354.7,761 1359.3,761" fill="#222" stroke="none" stroke-width="0" />
<line x1="1292" y1="505" x2="1582" y2="505" stroke="#222" stroke-width="1.65" />
<polygon points="1292,505 1303,502.7 1303,507.3" fill="#222" stroke="none" stroke-width="0" />
<polygon points="1582,505 1571,502.7 1571,507.3" fill="#222" stroke="none" stroke-width="0" />
<line x1="1291" y1="750.7" x2="1583" y2="750.7" stroke="#222" stroke-width="1.65" />
<line x1="1288" y1="772.8" x2="1585.5" y2="772.8" stroke="#111" stroke-width="3.3" />
<rect x="1289.5" y="751" width="4" height="22" fill="#111" stroke="none" stroke-width="1.76" rx="0" />
<rect x="1579" y="751" width="4.5" height="22" fill="#111" stroke="none" stroke-width="1.76" rx="0" />
<line x1="1583" y1="774" x2="1611" y2="774" stroke="#222" stroke-width="1.87" />
<path d="M1568.4 775.5 L1568.4 781.5 Q1568.6 784.4 1572 784.4 L1581 784.4 Q1588 784.6 1591 790 L1595.5 798 Q1598.5 803.5 1604 802.5 Q1609.5 801 1609.5 795.5 Q1609 793 1607.5 790 L1600.4 775.5" fill="#fff" stroke="#222" stroke-width="1.65" />
<circle cx="1602.2" cy="796" r="3.3" fill="#777" stroke="#222" stroke-width="1.4"/>
<line x1="1582.6" y1="797" x2="1582.6" y2="1128" stroke="#111" stroke-width="2.86" />
<line x1="1589.8" y1="793" x2="1589.8" y2="1134.5" stroke="#111" stroke-width="2.42" />
<line x1="1586.2" y1="797" x2="1586.2" y2="1128" stroke="#888" stroke-width="2.2" />
<line x1="1581.5" y1="1128" x2="1590" y2="1128" stroke="#222" stroke-width="1.54" />
<path d="M1582.4 799 Q1582.4 795.5 1586 795.5 L1590 794.5" fill="none" stroke="#111" stroke-width="1.98" />
<line x1="1615.5" y1="788" x2="1615.5" y2="1134.5" stroke="#222" stroke-width="1.76" />
<line x1="1608" y1="788" x2="1616" y2="788" stroke="#222" stroke-width="1.54" />
<path d="M1283 775 A345.8 345.8 0 0 0 1590 1133.5" fill="none" stroke="#333" stroke-width="1.76" /></g>
<rect x="0" y="1611" width="1800" height="189" fill="#2f4682" stroke="none" stroke-width="1.6" rx="0" />
<rect x="0" y="1610" width="1800" height="2" fill="#8a97bd" stroke="none" stroke-width="1.6" rx="0" opacity="0.6"/>
<path d="M47.5 1650 L60 1650 Q54 1667 60 1684 L47.5 1684 Z" fill="#f3f1e2" stroke="none" stroke-width="0" />
<path d="M442.5 1650 L430 1650 Q436 1667 430 1684 L442.5 1684 Z" fill="#f3f1e2" stroke="none" stroke-width="0" />
<text x="66" y="1679" font-size="35.5" font-weight="normal" fill="#f3f1e2" text-anchor="start" textLength="196.5" lengthAdjust="spacingAndGlyphs" stroke="#f3f1e2" stroke-width="1" >STAY-OPEN</text>
<text x="277.5" y="1679" font-size="35.5" font-weight="normal" fill="#f3f1e2" text-anchor="start" textLength="146.5" lengthAdjust="spacingAndGlyphs" stroke="#f3f1e2" stroke-width="1" >FEATURE</text>
<text x="465" y="1679" font-size="35.5" font-weight="normal" fill="#f3f1e2" text-anchor="start" textLength="52.5" lengthAdjust="spacingAndGlyphs" stroke="#f3f1e2" stroke-width="1" >the</text>
<text x="532.5" y="1679" font-size="35.5" font-weight="normal" fill="#f3f1e2" text-anchor="start" textLength="162.5" lengthAdjust="spacingAndGlyphs" stroke="#f3f1e2" stroke-width="1" >maximum</text>
<text x="712.5" y="1679" font-size="35.5" font-weight="normal" fill="#f3f1e2" text-anchor="start" textLength="76.5" lengthAdjust="spacingAndGlyphs" stroke="#f3f1e2" stroke-width="1" >door</text>
<text x="804" y="1679" font-size="35.5" font-weight="normal" fill="#f3f1e2" text-anchor="start" textLength="137" lengthAdjust="spacingAndGlyphs" stroke="#f3f1e2" stroke-width="1" >opening</text>
<text x="956.6" y="1679" font-size="35.5" font-weight="normal" fill="#f3f1e2" text-anchor="start" textLength="92" lengthAdjust="spacingAndGlyphs" stroke="#f3f1e2" stroke-width="1" >angle</text>
<text x="1064" y="1679" font-size="35.5" font-weight="normal" fill="#f3f1e2" text-anchor="start" textLength="24.5" lengthAdjust="spacingAndGlyphs" stroke="#f3f1e2" stroke-width="1" >is</text>
<text x="1100.7" y="1679" font-size="35.5" font-weight="normal" fill="#f3f1e2" text-anchor="start" textLength="59.3" lengthAdjust="spacingAndGlyphs" stroke="#f3f1e2" stroke-width="1" >135</text>
<text x="1173.8" y="1679" font-size="35.5" font-weight="normal" fill="#f3f1e2" text-anchor="start" textLength="144.6" lengthAdjust="spacingAndGlyphs" stroke="#f3f1e2" stroke-width="1" >degrees,</text>
<text x="1330.7" y="1679" font-size="35.5" font-weight="normal" fill="#f3f1e2" text-anchor="start" textLength="78.3" lengthAdjust="spacingAndGlyphs" stroke="#f3f1e2" stroke-width="1" >door</text>
<text x="1422.7" y="1679" font-size="35.5" font-weight="normal" fill="#f3f1e2" text-anchor="start" textLength="102.3" lengthAdjust="spacingAndGlyphs" stroke="#f3f1e2" stroke-width="1" >closes</text>
<text x="1539" y="1679" font-size="35.5" font-weight="normal" fill="#f3f1e2" text-anchor="start" textLength="227.6" lengthAdjust="spacingAndGlyphs" stroke="#f3f1e2" stroke-width="1" >automatically</text>
<text x="30" y="1737.5" font-size="35.5" font-weight="normal" fill="#f3f1e2" text-anchor="start" textLength="88.5" lengthAdjust="spacingAndGlyphs" stroke="#f3f1e2" stroke-width="1" >when</text>
<text x="132.5" y="1737.5" font-size="35.5" font-weight="normal" fill="#f3f1e2" text-anchor="start" textLength="85" lengthAdjust="spacingAndGlyphs" stroke="#f3f1e2" stroke-width="1" >open</text>
<text x="231" y="1737.5" font-size="35.5" font-weight="normal" fill="#f3f1e2" text-anchor="start" textLength="33" lengthAdjust="spacingAndGlyphs" stroke="#f3f1e2" stroke-width="1" >to</text>
<text x="278.5" y="1737.5" font-size="35.5" font-weight="normal" fill="#f3f1e2" text-anchor="start" textLength="40" lengthAdjust="spacingAndGlyphs" stroke="#f3f1e2" stroke-width="1" >90</text>
<text x="333.5" y="1737.5" font-size="35.5" font-weight="normal" fill="#f3f1e2" text-anchor="start" textLength="130.5" lengthAdjust="spacingAndGlyphs" stroke="#f3f1e2" stroke-width="1" >degrees</text>
<text x="478.5" y="1737.5" font-size="35.5" font-weight="normal" fill="#f3f1e2" text-anchor="start" textLength="35" lengthAdjust="spacingAndGlyphs" stroke="#f3f1e2" stroke-width="1" >or</text>
<text x="528.5" y="1737.5" font-size="35.5" font-weight="normal" fill="#f3f1e2" text-anchor="start" textLength="70" lengthAdjust="spacingAndGlyphs" stroke="#f3f1e2" stroke-width="1" >less.</text>
</svg>
</body></html>
